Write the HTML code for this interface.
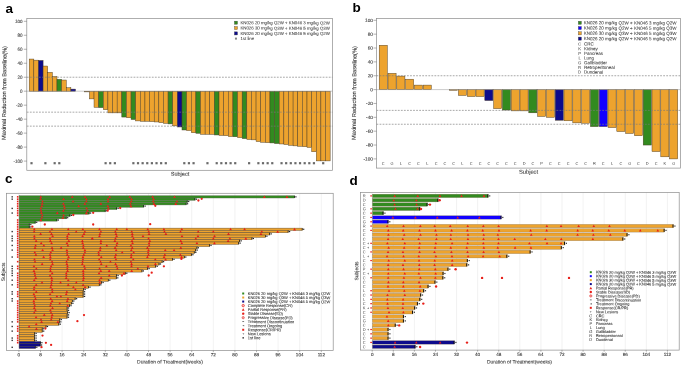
<!DOCTYPE html>
<html><head><meta charset="utf-8"><style>
html,body{margin:0;padding:0;background:#fff;width:685px;height:366px;overflow:hidden}
svg{display:block;transform:translateZ(0);will-change:transform}
text{font-family:"Liberation Sans",sans-serif;-webkit-font-smoothing:antialiased}
</style></head><body>
<svg width="685" height="366" viewBox="0 0 685 366">
<rect x="0" y="0" width="685" height="366" fill="#fff"/>
<text x="5.6" y="13" font-size="13.5" text-anchor="start" fill="#000" font-weight="bold" >a</text>
<rect x="29.2" y="59.05" width="4.63" height="32.15" fill="#eda32e" stroke="#4a3a22" stroke-width="0.45" />
<rect x="33.83" y="60.16" width="4.63" height="31.04" fill="#eda32e" stroke="#4a3a22" stroke-width="0.45" />
<rect x="38.46" y="60.44" width="4.63" height="30.76" fill="#0d0b8c" stroke="#4a3a22" stroke-width="0.45" />
<rect x="43.09" y="66.04" width="4.63" height="25.16" fill="#eda32e" stroke="#4a3a22" stroke-width="0.45" />
<rect x="47.72" y="72.33" width="4.63" height="18.87" fill="#eda32e" stroke="#4a3a22" stroke-width="0.45" />
<rect x="52.35" y="76.52" width="4.63" height="14.68" fill="#eda32e" stroke="#4a3a22" stroke-width="0.45" />
<rect x="56.98" y="79.32" width="4.63" height="11.88" fill="#328a1f" stroke="#4a3a22" stroke-width="0.45" />
<rect x="61.61" y="80.02" width="4.63" height="11.18" fill="#eda32e" stroke="#4a3a22" stroke-width="0.45" />
<rect x="66.24" y="87.7" width="4.63" height="3.5" fill="#eda32e" stroke="#4a3a22" stroke-width="0.45" />
<rect x="70.87" y="89.1" width="4.63" height="2.1" fill="#0d0b8c" stroke="#4a3a22" stroke-width="0.45" />
<rect x="84.76" y="91.2" width="4.63" height="0.7" fill="#eda32e" stroke="#4a3a22" stroke-width="0.45" />
<rect x="89.39" y="91.2" width="4.63" height="7.69" fill="#eda32e" stroke="#4a3a22" stroke-width="0.45" />
<rect x="94.02" y="91.2" width="4.63" height="16.08" fill="#eda32e" stroke="#4a3a22" stroke-width="0.45" />
<rect x="98.65" y="91.2" width="4.63" height="16.43" fill="#328a1f" stroke="#4a3a22" stroke-width="0.45" />
<rect x="103.28" y="91.2" width="4.63" height="18.52" fill="#eda32e" stroke="#4a3a22" stroke-width="0.45" />
<rect x="107.91" y="91.2" width="4.63" height="21.67" fill="#eda32e" stroke="#4a3a22" stroke-width="0.45" />
<rect x="112.54" y="91.2" width="4.63" height="21.67" fill="#eda32e" stroke="#4a3a22" stroke-width="0.45" />
<rect x="117.17" y="91.2" width="4.63" height="21.67" fill="#eda32e" stroke="#4a3a22" stroke-width="0.45" />
<rect x="121.8" y="91.2" width="4.63" height="25.86" fill="#328a1f" stroke="#4a3a22" stroke-width="0.45" />
<rect x="126.43" y="91.2" width="4.63" height="26.56" fill="#eda32e" stroke="#4a3a22" stroke-width="0.45" />
<rect x="131.06" y="91.2" width="4.63" height="28.31" fill="#328a1f" stroke="#4a3a22" stroke-width="0.45" />
<rect x="135.69" y="91.2" width="4.63" height="29.71" fill="#eda32e" stroke="#4a3a22" stroke-width="0.45" />
<rect x="140.32" y="91.2" width="4.63" height="30.06" fill="#eda32e" stroke="#4a3a22" stroke-width="0.45" />
<rect x="144.95" y="91.2" width="4.63" height="30.06" fill="#eda32e" stroke="#4a3a22" stroke-width="0.45" />
<rect x="149.58" y="91.2" width="4.63" height="30.41" fill="#eda32e" stroke="#4a3a22" stroke-width="0.45" />
<rect x="154.21" y="91.2" width="4.63" height="30.76" fill="#eda32e" stroke="#4a3a22" stroke-width="0.45" />
<rect x="158.84" y="91.2" width="4.63" height="31.45" fill="#eda32e" stroke="#4a3a22" stroke-width="0.45" />
<rect x="163.47" y="91.2" width="4.63" height="32.15" fill="#eda32e" stroke="#4a3a22" stroke-width="0.45" />
<rect x="168.1" y="91.2" width="4.63" height="32.71" fill="#328a1f" stroke="#4a3a22" stroke-width="0.45" />
<rect x="172.73" y="91.2" width="4.63" height="34.67" fill="#eda32e" stroke="#4a3a22" stroke-width="0.45" />
<rect x="177.36" y="91.2" width="4.63" height="35.79" fill="#0d0b8c" stroke="#4a3a22" stroke-width="0.45" />
<rect x="181.99" y="91.2" width="4.63" height="38.79" fill="#328a1f" stroke="#4a3a22" stroke-width="0.45" />
<rect x="186.62" y="91.2" width="4.63" height="39.35" fill="#eda32e" stroke="#4a3a22" stroke-width="0.45" />
<rect x="191.25" y="91.2" width="4.63" height="41.52" fill="#eda32e" stroke="#4a3a22" stroke-width="0.45" />
<rect x="195.88" y="91.2" width="4.63" height="42.08" fill="#328a1f" stroke="#4a3a22" stroke-width="0.45" />
<rect x="200.51" y="91.2" width="4.63" height="43.06" fill="#eda32e" stroke="#4a3a22" stroke-width="0.45" />
<rect x="205.14" y="91.2" width="4.63" height="43.06" fill="#eda32e" stroke="#4a3a22" stroke-width="0.45" />
<rect x="209.77" y="91.2" width="4.63" height="43.2" fill="#eda32e" stroke="#4a3a22" stroke-width="0.45" />
<rect x="214.4" y="91.2" width="4.63" height="43.76" fill="#328a1f" stroke="#4a3a22" stroke-width="0.45" />
<rect x="219.03" y="91.2" width="4.63" height="44.25" fill="#eda32e" stroke="#4a3a22" stroke-width="0.45" />
<rect x="223.66" y="91.2" width="4.63" height="44.46" fill="#eda32e" stroke="#4a3a22" stroke-width="0.45" />
<rect x="228.29" y="91.2" width="4.63" height="45.37" fill="#eda32e" stroke="#4a3a22" stroke-width="0.45" />
<rect x="232.92" y="91.2" width="4.63" height="45.57" fill="#328a1f" stroke="#4a3a22" stroke-width="0.45" />
<rect x="237.55" y="91.2" width="4.63" height="46.41" fill="#eda32e" stroke="#4a3a22" stroke-width="0.45" />
<rect x="242.18" y="91.2" width="4.63" height="47.39" fill="#328a1f" stroke="#4a3a22" stroke-width="0.45" />
<rect x="246.81" y="91.2" width="4.63" height="48.3" fill="#eda32e" stroke="#4a3a22" stroke-width="0.45" />
<rect x="251.44" y="91.2" width="4.63" height="48.65" fill="#eda32e" stroke="#4a3a22" stroke-width="0.45" />
<rect x="256.07" y="91.2" width="4.63" height="50.33" fill="#eda32e" stroke="#4a3a22" stroke-width="0.45" />
<rect x="260.7" y="91.2" width="4.63" height="51.03" fill="#eda32e" stroke="#4a3a22" stroke-width="0.45" />
<rect x="265.33" y="91.2" width="4.63" height="51.45" fill="#eda32e" stroke="#4a3a22" stroke-width="0.45" />
<rect x="269.96" y="91.2" width="4.63" height="51.73" fill="#328a1f" stroke="#4a3a22" stroke-width="0.45" />
<rect x="274.59" y="91.2" width="4.63" height="52.36" fill="#328a1f" stroke="#4a3a22" stroke-width="0.45" />
<rect x="279.22" y="91.2" width="4.63" height="52.77" fill="#eda32e" stroke="#4a3a22" stroke-width="0.45" />
<rect x="283.85" y="91.2" width="4.63" height="53.33" fill="#eda32e" stroke="#4a3a22" stroke-width="0.45" />
<rect x="288.48" y="91.2" width="4.63" height="54.1" fill="#eda32e" stroke="#4a3a22" stroke-width="0.45" />
<rect x="293.11" y="91.2" width="4.63" height="54.66" fill="#eda32e" stroke="#4a3a22" stroke-width="0.45" />
<rect x="297.74" y="91.2" width="4.63" height="55.08" fill="#eda32e" stroke="#4a3a22" stroke-width="0.45" />
<rect x="302.37" y="91.2" width="4.63" height="55.5" fill="#eda32e" stroke="#4a3a22" stroke-width="0.45" />
<rect x="307" y="91.2" width="4.63" height="56.2" fill="#eda32e" stroke="#4a3a22" stroke-width="0.45" />
<rect x="311.63" y="91.2" width="4.63" height="60.53" fill="#eda32e" stroke="#4a3a22" stroke-width="0.45" />
<rect x="316.26" y="91.2" width="4.63" height="69.69" fill="#eda32e" stroke="#4a3a22" stroke-width="0.45" />
<rect x="320.89" y="91.2" width="4.63" height="69.69" fill="#eda32e" stroke="#4a3a22" stroke-width="0.45" />
<rect x="325.52" y="91.2" width="4.63" height="69.69" fill="#eda32e" stroke="#4a3a22" stroke-width="0.45" />
<line x1="26.8" y1="91.2" x2="332.5" y2="91.2" stroke="#999" stroke-width="0.5" />
<line x1="26.8" y1="77.22" x2="332.5" y2="77.22" stroke="#7a7a7a" stroke-width="0.65" stroke-dasharray="1.8 1.25"/>
<line x1="26.8" y1="112.17" x2="332.5" y2="112.17" stroke="#7a7a7a" stroke-width="0.65" stroke-dasharray="1.8 1.25"/>
<line x1="26.8" y1="126.15" x2="332.5" y2="126.15" stroke="#7a7a7a" stroke-width="0.65" stroke-dasharray="1.8 1.25"/>
<rect x="30.41" y="162.1" width="2.2" height="2.2" fill="#6a6a6a" />
<rect x="44.3" y="162.1" width="2.2" height="2.2" fill="#6a6a6a" />
<rect x="53.56" y="162.1" width="2.2" height="2.2" fill="#6a6a6a" />
<rect x="58.2" y="162.1" width="2.2" height="2.2" fill="#6a6a6a" />
<rect x="104.5" y="162.1" width="2.2" height="2.2" fill="#6a6a6a" />
<rect x="109.12" y="162.1" width="2.2" height="2.2" fill="#6a6a6a" />
<rect x="113.76" y="162.1" width="2.2" height="2.2" fill="#6a6a6a" />
<rect x="132.28" y="162.1" width="2.2" height="2.2" fill="#6a6a6a" />
<rect x="136.91" y="162.1" width="2.2" height="2.2" fill="#6a6a6a" />
<rect x="141.53" y="162.1" width="2.2" height="2.2" fill="#6a6a6a" />
<rect x="146.16" y="162.1" width="2.2" height="2.2" fill="#6a6a6a" />
<rect x="150.79" y="162.1" width="2.2" height="2.2" fill="#6a6a6a" />
<rect x="155.43" y="162.1" width="2.2" height="2.2" fill="#6a6a6a" />
<rect x="160.05" y="162.1" width="2.2" height="2.2" fill="#6a6a6a" />
<rect x="164.69" y="162.1" width="2.2" height="2.2" fill="#6a6a6a" />
<rect x="183.2" y="162.1" width="2.2" height="2.2" fill="#6a6a6a" />
<rect x="187.83" y="162.1" width="2.2" height="2.2" fill="#6a6a6a" />
<rect x="192.47" y="162.1" width="2.2" height="2.2" fill="#6a6a6a" />
<rect x="206.35" y="162.1" width="2.2" height="2.2" fill="#6a6a6a" />
<rect x="215.61" y="162.1" width="2.2" height="2.2" fill="#6a6a6a" />
<rect x="220.24" y="162.1" width="2.2" height="2.2" fill="#6a6a6a" />
<rect x="224.88" y="162.1" width="2.2" height="2.2" fill="#6a6a6a" />
<rect x="229.5" y="162.1" width="2.2" height="2.2" fill="#6a6a6a" />
<rect x="234.13" y="162.1" width="2.2" height="2.2" fill="#6a6a6a" />
<rect x="248.02" y="162.1" width="2.2" height="2.2" fill="#6a6a6a" />
<rect x="257.28" y="162.1" width="2.2" height="2.2" fill="#6a6a6a" />
<rect x="261.91" y="162.1" width="2.2" height="2.2" fill="#6a6a6a" />
<rect x="266.54" y="162.1" width="2.2" height="2.2" fill="#6a6a6a" />
<rect x="271.17" y="162.1" width="2.2" height="2.2" fill="#6a6a6a" />
<rect x="280.44" y="162.1" width="2.2" height="2.2" fill="#6a6a6a" />
<rect x="285.06" y="162.1" width="2.2" height="2.2" fill="#6a6a6a" />
<rect x="289.69" y="162.1" width="2.2" height="2.2" fill="#6a6a6a" />
<rect x="294.32" y="162.1" width="2.2" height="2.2" fill="#6a6a6a" />
<rect x="298.95" y="162.1" width="2.2" height="2.2" fill="#6a6a6a" />
<rect x="303.58" y="162.1" width="2.2" height="2.2" fill="#6a6a6a" />
<rect x="308.21" y="162.1" width="2.2" height="2.2" fill="#6a6a6a" />
<rect x="312.84" y="162.1" width="2.2" height="2.2" fill="#6a6a6a" />
<rect x="322.1" y="162.1" width="2.2" height="2.2" fill="#6a6a6a" />
<rect x="26.8" y="18.6" width="305.7" height="151.7" fill="none" stroke="#8c8c8c" stroke-width="0.7"/>
<line x1="23.8" y1="161.1" x2="26.8" y2="161.1" stroke="#666" stroke-width="0.5" />
<text x="22.5" y="162.7" font-size="4.5" text-anchor="end" fill="#383838" font-weight="normal" stroke="#383838" stroke-width="0.09"  transform="rotate(0.15 22.5 162.7)">-100</text>
<line x1="23.8" y1="147.12" x2="26.8" y2="147.12" stroke="#666" stroke-width="0.5" />
<text x="22.5" y="148.72" font-size="4.5" text-anchor="end" fill="#383838" font-weight="normal" stroke="#383838" stroke-width="0.09"  transform="rotate(0.15 22.5 148.72)">-80</text>
<line x1="23.8" y1="133.14" x2="26.8" y2="133.14" stroke="#666" stroke-width="0.5" />
<text x="22.5" y="134.74" font-size="4.5" text-anchor="end" fill="#383838" font-weight="normal" stroke="#383838" stroke-width="0.09"  transform="rotate(0.15 22.5 134.74)">-60</text>
<line x1="23.8" y1="119.16" x2="26.8" y2="119.16" stroke="#666" stroke-width="0.5" />
<text x="22.5" y="120.76" font-size="4.5" text-anchor="end" fill="#383838" font-weight="normal" stroke="#383838" stroke-width="0.09"  transform="rotate(0.15 22.5 120.76)">-40</text>
<line x1="23.8" y1="105.18" x2="26.8" y2="105.18" stroke="#666" stroke-width="0.5" />
<text x="22.5" y="106.78" font-size="4.5" text-anchor="end" fill="#383838" font-weight="normal" stroke="#383838" stroke-width="0.09"  transform="rotate(0.15 22.5 106.78)">-20</text>
<line x1="23.8" y1="91.2" x2="26.8" y2="91.2" stroke="#666" stroke-width="0.5" />
<text x="22.5" y="92.8" font-size="4.5" text-anchor="end" fill="#383838" font-weight="normal" stroke="#383838" stroke-width="0.09"  transform="rotate(0.15 22.5 92.8)">0</text>
<line x1="23.8" y1="77.22" x2="26.8" y2="77.22" stroke="#666" stroke-width="0.5" />
<text x="22.5" y="78.82" font-size="4.5" text-anchor="end" fill="#383838" font-weight="normal" stroke="#383838" stroke-width="0.09"  transform="rotate(0.15 22.5 78.82)">20</text>
<line x1="23.8" y1="63.24" x2="26.8" y2="63.24" stroke="#666" stroke-width="0.5" />
<text x="22.5" y="64.84" font-size="4.5" text-anchor="end" fill="#383838" font-weight="normal" stroke="#383838" stroke-width="0.09"  transform="rotate(0.15 22.5 64.84)">40</text>
<line x1="23.8" y1="49.26" x2="26.8" y2="49.26" stroke="#666" stroke-width="0.5" />
<text x="22.5" y="50.86" font-size="4.5" text-anchor="end" fill="#383838" font-weight="normal" stroke="#383838" stroke-width="0.09"  transform="rotate(0.15 22.5 50.86)">60</text>
<line x1="23.8" y1="35.28" x2="26.8" y2="35.28" stroke="#666" stroke-width="0.5" />
<text x="22.5" y="36.88" font-size="4.5" text-anchor="end" fill="#383838" font-weight="normal" stroke="#383838" stroke-width="0.09"  transform="rotate(0.15 22.5 36.88)">80</text>
<line x1="23.8" y1="21.3" x2="26.8" y2="21.3" stroke="#666" stroke-width="0.5" />
<text x="22.5" y="22.9" font-size="4.5" text-anchor="end" fill="#383838" font-weight="normal" stroke="#383838" stroke-width="0.09"  transform="rotate(0.15 22.5 22.9)">100</text>
<text x="4.6" y="93" font-size="5.72" text-anchor="middle" fill="#333" font-weight="normal" stroke="#333" stroke-width="0.09" transform="rotate(-89.5 4.6 93)" dominant-baseline="middle">Maximal Reduction from Baseline(%)</text>
<text x="180" y="175.8" font-size="5.5" text-anchor="middle" fill="#383838" font-weight="normal" stroke="#383838" stroke-width="0.09"  transform="rotate(0.15 180 175.8)">Subject</text>
<rect x="234.4" y="21.15" width="3.1" height="3.1" fill="#328a1f" stroke="#444" stroke-width="0.35" />
<text x="240.4" y="24.2" font-size="4.35" text-anchor="start" fill="#444" font-weight="normal" stroke="#444" stroke-width="0.07"  transform="rotate(0.15 240.4 24.2)">KN026 20 mg/kg Q2W + KN046 3 mg/kg Q2W</text>
<rect x="234.4" y="26.5" width="3.1" height="3.1" fill="#eda32e" stroke="#444" stroke-width="0.35" />
<text x="240.4" y="29.55" font-size="4.35" text-anchor="start" fill="#444" font-weight="normal" stroke="#444" stroke-width="0.07"  transform="rotate(0.15 240.4 29.55)">KN026 30 mg/kg Q3W + KN046 5 mg/kg Q3W</text>
<rect x="234.4" y="31.85" width="3.1" height="3.1" fill="#0d0b8c" stroke="#444" stroke-width="0.35" />
<text x="240.4" y="34.9" font-size="4.35" text-anchor="start" fill="#444" font-weight="normal" stroke="#444" stroke-width="0.07"  transform="rotate(0.15 240.4 34.9)">KN026 20 mg/kg Q2W + KN046 5 mg/kg Q2W</text>
<rect x="234.95" y="37.6" width="2" height="2" fill="#858585" />
<text x="240.4" y="40.1" font-size="4.35" text-anchor="start" fill="#444" font-weight="normal" stroke="#444" stroke-width="0.07"  transform="rotate(0.15 240.4 40.1)">1st line</text>
<text x="352.4" y="12.1" font-size="13.5" text-anchor="start" fill="#000" font-weight="bold" >b</text>
<rect x="379.2" y="45.25" width="8.1" height="44.35" fill="#eda32e" stroke="#4a3a22" stroke-width="0.45" />
<text x="383.25" y="164.7" font-size="3.9" text-anchor="middle" fill="#333" font-weight="normal"  transform="rotate(0.15 383.25 164.7)">C</text>
<rect x="388" y="73.31" width="8.1" height="16.29" fill="#eda32e" stroke="#4a3a22" stroke-width="0.45" />
<text x="392.05" y="164.7" font-size="3.9" text-anchor="middle" fill="#333" font-weight="normal"  transform="rotate(0.15 392.05 164.7)">G</text>
<rect x="396.8" y="76.09" width="8.1" height="13.51" fill="#eda32e" stroke="#4a3a22" stroke-width="0.45" />
<text x="400.85" y="164.7" font-size="3.9" text-anchor="middle" fill="#333" font-weight="normal"  transform="rotate(0.15 400.85 164.7)">L</text>
<rect x="405.6" y="79.2" width="8.1" height="10.39" fill="#eda32e" stroke="#4a3a22" stroke-width="0.45" />
<text x="409.65" y="164.7" font-size="3.9" text-anchor="middle" fill="#333" font-weight="normal"  transform="rotate(0.15 409.65 164.7)">C</text>
<rect x="414.4" y="85.1" width="8.1" height="4.5" fill="#eda32e" stroke="#4a3a22" stroke-width="0.45" />
<text x="418.45" y="164.7" font-size="3.9" text-anchor="middle" fill="#333" font-weight="normal"  transform="rotate(0.15 418.45 164.7)">C</text>
<rect x="423.2" y="85.1" width="8.1" height="4.5" fill="#eda32e" stroke="#4a3a22" stroke-width="0.45" />
<text x="427.25" y="164.7" font-size="3.9" text-anchor="middle" fill="#333" font-weight="normal"  transform="rotate(0.15 427.25 164.7)">L</text>
<text x="436.05" y="164.7" font-size="3.9" text-anchor="middle" fill="#333" font-weight="normal"  transform="rotate(0.15 436.05 164.7)">C</text>
<text x="444.85" y="164.7" font-size="3.9" text-anchor="middle" fill="#333" font-weight="normal"  transform="rotate(0.15 444.85 164.7)">C</text>
<rect x="449.6" y="89.6" width="8.1" height="0.69" fill="#eda32e" stroke="#4a3a22" stroke-width="0.45" />
<text x="453.65" y="164.7" font-size="3.9" text-anchor="middle" fill="#333" font-weight="normal"  transform="rotate(0.15 453.65 164.7)">C</text>
<rect x="458.4" y="89.6" width="8.1" height="5.82" fill="#eda32e" stroke="#4a3a22" stroke-width="0.45" />
<text x="462.45" y="164.7" font-size="3.9" text-anchor="middle" fill="#333" font-weight="normal"  transform="rotate(0.15 462.45 164.7)">L</text>
<rect x="467.2" y="89.6" width="8.1" height="6.93" fill="#eda32e" stroke="#4a3a22" stroke-width="0.45" />
<text x="471.25" y="164.7" font-size="3.9" text-anchor="middle" fill="#333" font-weight="normal"  transform="rotate(0.15 471.25 164.7)">C</text>
<rect x="476" y="89.6" width="8.1" height="6.93" fill="#eda32e" stroke="#4a3a22" stroke-width="0.45" />
<text x="480.05" y="164.7" font-size="3.9" text-anchor="middle" fill="#333" font-weight="normal"  transform="rotate(0.15 480.05 164.7)">C</text>
<rect x="484.8" y="89.6" width="8.1" height="10.95" fill="#0d0b8c" stroke="#4a3a22" stroke-width="0.45" />
<text x="488.85" y="164.7" font-size="3.9" text-anchor="middle" fill="#333" font-weight="normal"  transform="rotate(0.15 488.85 164.7)">C</text>
<rect x="493.6" y="89.6" width="8.1" height="19.06" fill="#eda32e" stroke="#4a3a22" stroke-width="0.45" />
<text x="497.65" y="164.7" font-size="3.9" text-anchor="middle" fill="#333" font-weight="normal"  transform="rotate(0.15 497.65 164.7)">C</text>
<rect x="502.4" y="89.6" width="8.1" height="20.44" fill="#328a1f" stroke="#4a3a22" stroke-width="0.45" />
<text x="506.45" y="164.7" font-size="3.9" text-anchor="middle" fill="#333" font-weight="normal"  transform="rotate(0.15 506.45 164.7)">C</text>
<rect x="511.2" y="89.6" width="8.1" height="21.28" fill="#eda32e" stroke="#4a3a22" stroke-width="0.45" />
<text x="515.25" y="164.7" font-size="3.9" text-anchor="middle" fill="#333" font-weight="normal"  transform="rotate(0.15 515.25 164.7)">C</text>
<rect x="520" y="89.6" width="8.1" height="21.28" fill="#eda32e" stroke="#4a3a22" stroke-width="0.45" />
<text x="524.05" y="164.7" font-size="3.9" text-anchor="middle" fill="#333" font-weight="normal"  transform="rotate(0.15 524.05 164.7)">D</text>
<rect x="528.8" y="89.6" width="8.1" height="23.22" fill="#328a1f" stroke="#4a3a22" stroke-width="0.45" />
<text x="532.85" y="164.7" font-size="3.9" text-anchor="middle" fill="#333" font-weight="normal"  transform="rotate(0.15 532.85 164.7)">C</text>
<rect x="537.6" y="89.6" width="8.1" height="26.82" fill="#eda32e" stroke="#4a3a22" stroke-width="0.45" />
<text x="541.65" y="164.7" font-size="3.9" text-anchor="middle" fill="#333" font-weight="normal"  transform="rotate(0.15 541.65 164.7)">P</text>
<rect x="546.4" y="89.6" width="8.1" height="27.72" fill="#eda32e" stroke="#4a3a22" stroke-width="0.45" />
<text x="550.45" y="164.7" font-size="3.9" text-anchor="middle" fill="#333" font-weight="normal"  transform="rotate(0.15 550.45 164.7)">C</text>
<rect x="555.2" y="89.6" width="8.1" height="30.63" fill="#0d0b8c" stroke="#4a3a22" stroke-width="0.45" />
<text x="559.25" y="164.7" font-size="3.9" text-anchor="middle" fill="#333" font-weight="normal"  transform="rotate(0.15 559.25 164.7)">C</text>
<rect x="564" y="89.6" width="8.1" height="31.19" fill="#eda32e" stroke="#4a3a22" stroke-width="0.45" />
<text x="568.05" y="164.7" font-size="3.9" text-anchor="middle" fill="#333" font-weight="normal"  transform="rotate(0.15 568.05 164.7)">C</text>
<rect x="572.8" y="89.6" width="8.1" height="33.26" fill="#eda32e" stroke="#4a3a22" stroke-width="0.45" />
<text x="576.85" y="164.7" font-size="3.9" text-anchor="middle" fill="#333" font-weight="normal"  transform="rotate(0.15 576.85 164.7)">C</text>
<rect x="581.6" y="89.6" width="8.1" height="33.61" fill="#eda32e" stroke="#4a3a22" stroke-width="0.45" />
<text x="585.65" y="164.7" font-size="3.9" text-anchor="middle" fill="#333" font-weight="normal"  transform="rotate(0.15 585.65 164.7)">C</text>
<rect x="590.4" y="89.6" width="8.1" height="37.01" fill="#328a1f" stroke="#4a3a22" stroke-width="0.45" />
<text x="594.45" y="164.7" font-size="3.9" text-anchor="middle" fill="#333" font-weight="normal"  transform="rotate(0.15 594.45 164.7)">R</text>
<rect x="599.2" y="89.6" width="8.1" height="37.01" fill="#1200ff" stroke="#4a3a22" stroke-width="0.45" />
<text x="603.25" y="164.7" font-size="3.9" text-anchor="middle" fill="#333" font-weight="normal"  transform="rotate(0.15 603.25 164.7)">C</text>
<rect x="608" y="89.6" width="8.1" height="37.98" fill="#eda32e" stroke="#4a3a22" stroke-width="0.45" />
<text x="612.05" y="164.7" font-size="3.9" text-anchor="middle" fill="#333" font-weight="normal"  transform="rotate(0.15 612.05 164.7)">L</text>
<rect x="616.8" y="89.6" width="8.1" height="41.93" fill="#eda32e" stroke="#4a3a22" stroke-width="0.45" />
<text x="620.85" y="164.7" font-size="3.9" text-anchor="middle" fill="#333" font-weight="normal"  transform="rotate(0.15 620.85 164.7)">C</text>
<rect x="625.6" y="89.6" width="8.1" height="43.87" fill="#eda32e" stroke="#4a3a22" stroke-width="0.45" />
<text x="629.65" y="164.7" font-size="3.9" text-anchor="middle" fill="#333" font-weight="normal"  transform="rotate(0.15 629.65 164.7)">G</text>
<rect x="634.4" y="89.6" width="8.1" height="46.15" fill="#eda32e" stroke="#4a3a22" stroke-width="0.45" />
<text x="638.45" y="164.7" font-size="3.9" text-anchor="middle" fill="#333" font-weight="normal"  transform="rotate(0.15 638.45 164.7)">C</text>
<rect x="643.2" y="89.6" width="8.1" height="55.44" fill="#328a1f" stroke="#4a3a22" stroke-width="0.45" />
<text x="647.25" y="164.7" font-size="3.9" text-anchor="middle" fill="#333" font-weight="normal"  transform="rotate(0.15 647.25 164.7)">D</text>
<rect x="652" y="89.6" width="8.1" height="61.95" fill="#eda32e" stroke="#4a3a22" stroke-width="0.45" />
<text x="656.05" y="164.7" font-size="3.9" text-anchor="middle" fill="#333" font-weight="normal"  transform="rotate(0.15 656.05 164.7)">C</text>
<rect x="660.8" y="89.6" width="8.1" height="67.22" fill="#eda32e" stroke="#4a3a22" stroke-width="0.45" />
<text x="664.85" y="164.7" font-size="3.9" text-anchor="middle" fill="#333" font-weight="normal"  transform="rotate(0.15 664.85 164.7)">K</text>
<rect x="669.6" y="89.6" width="8.1" height="69.3" fill="#eda32e" stroke="#4a3a22" stroke-width="0.45" />
<text x="673.65" y="164.7" font-size="3.9" text-anchor="middle" fill="#333" font-weight="normal"  transform="rotate(0.15 673.65 164.7)">G</text>
<line x1="376.5" y1="89.6" x2="680.5" y2="89.6" stroke="#999" stroke-width="0.5" />
<line x1="376.5" y1="75.74" x2="680.5" y2="75.74" stroke="#7a7a7a" stroke-width="0.65" stroke-dasharray="1.8 1.25"/>
<line x1="376.5" y1="110.39" x2="680.5" y2="110.39" stroke="#7a7a7a" stroke-width="0.65" stroke-dasharray="1.8 1.25"/>
<line x1="376.5" y1="124.25" x2="680.5" y2="124.25" stroke="#7a7a7a" stroke-width="0.65" stroke-dasharray="1.8 1.25"/>
<rect x="376.5" y="18.4" width="304" height="149.7" fill="none" stroke="#8c8c8c" stroke-width="0.7"/>
<line x1="373.5" y1="158.9" x2="376.5" y2="158.9" stroke="#666" stroke-width="0.5" />
<text x="372.9" y="160.5" font-size="4.7" text-anchor="end" fill="#383838" font-weight="normal" stroke="#383838" stroke-width="0.09"  transform="rotate(0.15 372.9 160.5)">-100</text>
<line x1="373.5" y1="145.04" x2="376.5" y2="145.04" stroke="#666" stroke-width="0.5" />
<text x="372.9" y="146.64" font-size="4.7" text-anchor="end" fill="#383838" font-weight="normal" stroke="#383838" stroke-width="0.09"  transform="rotate(0.15 372.9 146.64)">-80</text>
<line x1="373.5" y1="131.18" x2="376.5" y2="131.18" stroke="#666" stroke-width="0.5" />
<text x="372.9" y="132.78" font-size="4.7" text-anchor="end" fill="#383838" font-weight="normal" stroke="#383838" stroke-width="0.09"  transform="rotate(0.15 372.9 132.78)">-60</text>
<line x1="373.5" y1="117.32" x2="376.5" y2="117.32" stroke="#666" stroke-width="0.5" />
<text x="372.9" y="118.92" font-size="4.7" text-anchor="end" fill="#383838" font-weight="normal" stroke="#383838" stroke-width="0.09"  transform="rotate(0.15 372.9 118.92)">-40</text>
<line x1="373.5" y1="103.46" x2="376.5" y2="103.46" stroke="#666" stroke-width="0.5" />
<text x="372.9" y="105.06" font-size="4.7" text-anchor="end" fill="#383838" font-weight="normal" stroke="#383838" stroke-width="0.09"  transform="rotate(0.15 372.9 105.06)">-20</text>
<line x1="373.5" y1="89.6" x2="376.5" y2="89.6" stroke="#666" stroke-width="0.5" />
<text x="372.9" y="91.2" font-size="4.7" text-anchor="end" fill="#383838" font-weight="normal" stroke="#383838" stroke-width="0.09"  transform="rotate(0.15 372.9 91.2)">0</text>
<line x1="373.5" y1="75.74" x2="376.5" y2="75.74" stroke="#666" stroke-width="0.5" />
<text x="372.9" y="77.34" font-size="4.7" text-anchor="end" fill="#383838" font-weight="normal" stroke="#383838" stroke-width="0.09"  transform="rotate(0.15 372.9 77.34)">20</text>
<line x1="373.5" y1="61.88" x2="376.5" y2="61.88" stroke="#666" stroke-width="0.5" />
<text x="372.9" y="63.48" font-size="4.7" text-anchor="end" fill="#383838" font-weight="normal" stroke="#383838" stroke-width="0.09"  transform="rotate(0.15 372.9 63.48)">40</text>
<line x1="373.5" y1="48.02" x2="376.5" y2="48.02" stroke="#666" stroke-width="0.5" />
<text x="372.9" y="49.62" font-size="4.7" text-anchor="end" fill="#383838" font-weight="normal" stroke="#383838" stroke-width="0.09"  transform="rotate(0.15 372.9 49.62)">60</text>
<line x1="373.5" y1="34.16" x2="376.5" y2="34.16" stroke="#666" stroke-width="0.5" />
<text x="372.9" y="35.76" font-size="4.7" text-anchor="end" fill="#383838" font-weight="normal" stroke="#383838" stroke-width="0.09"  transform="rotate(0.15 372.9 35.76)">80</text>
<line x1="373.5" y1="20.3" x2="376.5" y2="20.3" stroke="#666" stroke-width="0.5" />
<text x="372.9" y="21.9" font-size="4.7" text-anchor="end" fill="#383838" font-weight="normal" stroke="#383838" stroke-width="0.09"  transform="rotate(0.15 372.9 21.9)">100</text>
<text x="354.6" y="93" font-size="5.72" text-anchor="middle" fill="#333" font-weight="normal" stroke="#333" stroke-width="0.09" transform="rotate(-89.5 354.6 93)" dominant-baseline="middle">Maximal Reduction from Baseline(%)</text>
<text x="528.5" y="173.7" font-size="5.75" text-anchor="middle" fill="#383838" font-weight="normal" stroke="#383838" stroke-width="0.09"  transform="rotate(0.15 528.5 173.7)">Subject</text>
<rect x="578.3" y="21.25" width="3.1" height="3.1" fill="#328a1f" stroke="#444" stroke-width="0.35" />
<text x="583.8" y="24.3" font-size="4.5" text-anchor="start" fill="#444" font-weight="normal" stroke="#444" stroke-width="0.07"  transform="rotate(0.15 583.8 24.3)">KN026 20 mg/kg Q2W + KN046 3 mg/kg Q2W</text>
<rect x="578.3" y="26.52" width="3.1" height="3.1" fill="#1200ff" stroke="#444" stroke-width="0.35" />
<text x="583.8" y="29.57" font-size="4.5" text-anchor="start" fill="#444" font-weight="normal" stroke="#444" stroke-width="0.07"  transform="rotate(0.15 583.8 29.57)">KN026 20 mg/kg Q2W + KN046 5 mg/kg Q3W</text>
<rect x="578.3" y="31.79" width="3.1" height="3.1" fill="#eda32e" stroke="#444" stroke-width="0.35" />
<text x="583.8" y="34.84" font-size="4.5" text-anchor="start" fill="#444" font-weight="normal" stroke="#444" stroke-width="0.07"  transform="rotate(0.15 583.8 34.84)">KN026 30 mg/kg Q3W + KN046 5 mg/kg Q3W</text>
<rect x="578.3" y="37.06" width="3.1" height="3.1" fill="#0d0b8c" stroke="#444" stroke-width="0.35" />
<text x="583.8" y="40.11" font-size="4.5" text-anchor="start" fill="#444" font-weight="normal" stroke="#444" stroke-width="0.07"  transform="rotate(0.15 583.8 40.11)">KN026 20 mg/kg Q2W + KN046 5 mg/kg Q2W</text>
<text x="579.6" y="45.6" font-size="4.3" text-anchor="middle" fill="#555" font-weight="normal" stroke="#555" stroke-width="0.05"  transform="rotate(0.15 579.6 45.6)">C</text>
<text x="584" y="45.6" font-size="4.5" text-anchor="start" fill="#444" font-weight="normal" stroke="#444" stroke-width="0.07"  transform="rotate(0.15 584 45.6)">CRC</text>
<text x="579.6" y="50.27" font-size="4.3" text-anchor="middle" fill="#555" font-weight="normal" stroke="#555" stroke-width="0.05"  transform="rotate(0.15 579.6 50.27)">K</text>
<text x="584" y="50.27" font-size="4.5" text-anchor="start" fill="#444" font-weight="normal" stroke="#444" stroke-width="0.07"  transform="rotate(0.15 584 50.27)">Kidney</text>
<text x="579.6" y="54.94" font-size="4.3" text-anchor="middle" fill="#555" font-weight="normal" stroke="#555" stroke-width="0.05"  transform="rotate(0.15 579.6 54.94)">P</text>
<text x="584" y="54.94" font-size="4.5" text-anchor="start" fill="#444" font-weight="normal" stroke="#444" stroke-width="0.07"  transform="rotate(0.15 584 54.94)">Pancreas</text>
<text x="579.6" y="59.61" font-size="4.3" text-anchor="middle" fill="#555" font-weight="normal" stroke="#555" stroke-width="0.05"  transform="rotate(0.15 579.6 59.61)">L</text>
<text x="584" y="59.61" font-size="4.5" text-anchor="start" fill="#444" font-weight="normal" stroke="#444" stroke-width="0.07"  transform="rotate(0.15 584 59.61)">Lung</text>
<text x="579.6" y="64.28" font-size="4.3" text-anchor="middle" fill="#555" font-weight="normal" stroke="#555" stroke-width="0.05"  transform="rotate(0.15 579.6 64.28)">G</text>
<text x="584" y="64.28" font-size="4.5" text-anchor="start" fill="#444" font-weight="normal" stroke="#444" stroke-width="0.07"  transform="rotate(0.15 584 64.28)">Gallbladder</text>
<text x="579.6" y="68.95" font-size="4.3" text-anchor="middle" fill="#555" font-weight="normal" stroke="#555" stroke-width="0.05"  transform="rotate(0.15 579.6 68.95)">R</text>
<text x="584" y="68.95" font-size="4.5" text-anchor="start" fill="#444" font-weight="normal" stroke="#444" stroke-width="0.07"  transform="rotate(0.15 584 68.95)">Retroperitoneal</text>
<text x="579.6" y="73.62" font-size="4.3" text-anchor="middle" fill="#555" font-weight="normal" stroke="#555" stroke-width="0.05"  transform="rotate(0.15 579.6 73.62)">D</text>
<text x="584" y="73.62" font-size="4.5" text-anchor="start" fill="#444" font-weight="normal" stroke="#444" stroke-width="0.07"  transform="rotate(0.15 584 73.62)">Duodenal</text>
<text x="4.9" y="183.3" font-size="13.5" text-anchor="start" fill="#000" font-weight="bold" >c</text>
<line x1="18.9" y1="193.3" x2="18.9" y2="350.5" stroke="#e4e4e4" stroke-width="0.5" />
<line x1="40.5" y1="193.3" x2="40.5" y2="350.5" stroke="#e4e4e4" stroke-width="0.5" />
<line x1="62.1" y1="193.3" x2="62.1" y2="350.5" stroke="#e4e4e4" stroke-width="0.5" />
<line x1="83.7" y1="193.3" x2="83.7" y2="350.5" stroke="#e4e4e4" stroke-width="0.5" />
<line x1="105.3" y1="193.3" x2="105.3" y2="350.5" stroke="#e4e4e4" stroke-width="0.5" />
<line x1="126.9" y1="193.3" x2="126.9" y2="350.5" stroke="#e4e4e4" stroke-width="0.5" />
<line x1="148.5" y1="193.3" x2="148.5" y2="350.5" stroke="#e4e4e4" stroke-width="0.5" />
<line x1="170.1" y1="193.3" x2="170.1" y2="350.5" stroke="#e4e4e4" stroke-width="0.5" />
<line x1="191.7" y1="193.3" x2="191.7" y2="350.5" stroke="#e4e4e4" stroke-width="0.5" />
<line x1="213.3" y1="193.3" x2="213.3" y2="350.5" stroke="#e4e4e4" stroke-width="0.5" />
<line x1="234.9" y1="193.3" x2="234.9" y2="350.5" stroke="#e4e4e4" stroke-width="0.5" />
<line x1="256.5" y1="193.3" x2="256.5" y2="350.5" stroke="#e4e4e4" stroke-width="0.5" />
<line x1="278.1" y1="193.3" x2="278.1" y2="350.5" stroke="#e4e4e4" stroke-width="0.5" />
<line x1="299.7" y1="193.3" x2="299.7" y2="350.5" stroke="#e4e4e4" stroke-width="0.5" />
<line x1="321.3" y1="193.3" x2="321.3" y2="350.5" stroke="#e4e4e4" stroke-width="0.5" />
<rect x="19.1" y="195.7" width="275.6" height="2.31" fill="#328a1f" stroke="#5f6a58" stroke-width="0.4" />
<rect x="294" y="195.9" width="0.7" height="1.92" fill="#111" />
<rect x="295.3" y="196.25" width="1.2" height="1.2" fill="#222" />
<path d="M40.83 195.41 L42.28 198.02 L39.38 198.02 Z" fill="#e8201a"/>
<path d="M72.23 195.41 L73.68 198.02 L70.78 198.02 Z" fill="#e8201a"/>
<path d="M85.03 195.41 L86.48 198.02 L83.58 198.02 Z" fill="#e8201a"/>
<path d="M109.65 195.41 L111.1 198.02 L108.2 198.02 Z" fill="#e8201a"/>
<path d="M129.83 195.41 L131.28 198.02 L128.38 198.02 Z" fill="#e8201a"/>
<path d="M152.66 195.41 L154.11 198.02 L151.21 198.02 Z" fill="#e8201a"/>
<path d="M174.58 195.41 L176.03 198.02 L173.13 198.02 Z" fill="#e8201a"/>
<path d="M264.38 195.41 L265.83 198.02 L262.93 198.02 Z" fill="#e8201a"/>
<path d="M286.96 195.41 L288.41 198.02 L285.51 198.02 Z" fill="#e8201a"/>
<rect x="16.9" y="196.05" width="1.6" height="1.6" fill="#e8201a" />
<rect x="11.5" y="196.15" width="1.4" height="1.4" fill="#333" />
<rect x="19.1" y="198.01" width="176.1" height="2.31" fill="#328a1f" stroke="#5f6a58" stroke-width="0.4" />
<rect x="194.5" y="198.21" width="0.7" height="1.92" fill="#111" />
<rect x="195.8" y="198.56" width="1.2" height="1.2" fill="#222" />
<path d="M40.52 197.72 L41.97 200.33 L39.07 200.33 Z" fill="#e8201a"/>
<path d="M63.52 197.72 L64.97 200.33 L62.07 200.33 Z" fill="#e8201a"/>
<path d="M86.36 197.72 L87.81 200.33 L84.91 200.33 Z" fill="#e8201a"/>
<path d="M108 197.72 L109.45 200.33 L106.55 200.33 Z" fill="#e8201a"/>
<path d="M131.49 197.72 L132.94 200.33 L130.04 200.33 Z" fill="#e8201a"/>
<path d="M153.56 197.72 L155.01 200.33 L152.11 200.33 Z" fill="#e8201a"/>
<rect x="16.9" y="198.36" width="1.6" height="1.6" fill="#e8201a" />
<rect x="11.5" y="198.46" width="1.4" height="1.4" fill="#333" />
<rect x="19.1" y="200.33" width="168.4" height="2.31" fill="#328a1f" stroke="#5f6a58" stroke-width="0.4" />
<rect x="186.8" y="200.53" width="0.7" height="1.92" fill="#111" />
<rect x="188.1" y="200.88" width="1.2" height="1.2" fill="#222" />
<path d="M42.48 200.04 L43.93 202.65 L41.03 202.65 Z" fill="#e8201a"/>
<path d="M73.07 200.04 L74.52 202.65 L71.62 202.65 Z" fill="#e8201a"/>
<path d="M86.33 200.04 L87.78 202.65 L84.88 202.65 Z" fill="#e8201a"/>
<path d="M108.04 200.04 L109.49 202.65 L106.59 202.65 Z" fill="#e8201a"/>
<path d="M131.2 200.04 L132.65 202.65 L129.75 202.65 Z" fill="#e8201a"/>
<path d="M153.24 200.04 L154.69 202.65 L151.79 202.65 Z" fill="#e8201a"/>
<path d="M176.97 200.04 L178.42 202.65 L175.52 202.65 Z" fill="#e8201a"/>
<rect x="16.9" y="200.68" width="1.6" height="1.6" fill="#e8201a" />
<rect x="19.1" y="202.64" width="167.3" height="2.31" fill="#328a1f" stroke="#5f6a58" stroke-width="0.4" />
<rect x="185.7" y="202.84" width="0.7" height="1.92" fill="#111" />
<rect x="187" y="203.19" width="1.2" height="1.2" fill="#222" />
<path d="M42.18 202.35 L43.63 204.96 L40.73 204.96 Z" fill="#e8201a"/>
<path d="M63.41 202.35 L64.86 204.96 L61.96 204.96 Z" fill="#e8201a"/>
<path d="M84.84 202.35 L86.29 204.96 L83.39 204.96 Z" fill="#e8201a"/>
<path d="M100.89 202.35 L102.34 204.96 L99.44 204.96 Z" fill="#e8201a"/>
<path d="M130.19 202.35 L131.64 204.96 L128.74 204.96 Z" fill="#e8201a"/>
<path d="M154 202.35 L155.45 204.96 L152.55 204.96 Z" fill="#e8201a"/>
<path d="M175.76 202.35 L177.21 204.96 L174.31 204.96 Z" fill="#e8201a"/>
<rect x="16.9" y="202.99" width="1.6" height="1.6" fill="#e8201a" />
<rect x="19.1" y="204.96" width="124.8" height="2.31" fill="#328a1f" stroke="#5f6a58" stroke-width="0.4" />
<rect x="143.2" y="205.16" width="0.7" height="1.92" fill="#111" />
<rect x="144.5" y="205.51" width="1.2" height="1.2" fill="#222" />
<path d="M41.87 204.67 L43.32 207.28 L40.42 207.28 Z" fill="#e8201a"/>
<path d="M64.21 204.67 L65.66 207.28 L62.76 207.28 Z" fill="#e8201a"/>
<path d="M78.65 204.67 L80.1 207.28 L77.2 207.28 Z" fill="#e8201a"/>
<path d="M107.82 204.67 L109.27 207.28 L106.37 207.28 Z" fill="#e8201a"/>
<path d="M130.91 204.67 L132.36 207.28 L129.46 207.28 Z" fill="#e8201a"/>
<rect x="16.9" y="205.31" width="1.6" height="1.6" fill="#e8201a" />
<rect x="19.1" y="207.27" width="97.8" height="2.31" fill="#328a1f" stroke="#5f6a58" stroke-width="0.4" />
<rect x="116.2" y="207.47" width="0.7" height="1.92" fill="#111" />
<rect x="117.5" y="207.82" width="1.2" height="1.2" fill="#222" />
<path d="M40.82 206.98 L42.27 209.59 L39.37 209.59 Z" fill="#e8201a"/>
<path d="M64.69 206.98 L66.14 209.59 L63.24 209.59 Z" fill="#e8201a"/>
<path d="M86.55 206.98 L88 209.59 L85.1 209.59 Z" fill="#e8201a"/>
<path d="M108.42 206.98 L109.87 209.59 L106.97 209.59 Z" fill="#e8201a"/>
<rect x="16.9" y="207.62" width="1.6" height="1.6" fill="#e8201a" />
<rect x="11.5" y="207.72" width="1.4" height="1.4" fill="#333" />
<rect x="19.1" y="209.59" width="86.4" height="2.31" fill="#328a1f" stroke="#5f6a58" stroke-width="0.4" />
<rect x="104.8" y="209.79" width="0.7" height="1.92" fill="#111" />
<rect x="106.1" y="210.14" width="1.2" height="1.2" fill="#222" />
<path d="M41.02 209.3 L42.47 211.91 L39.57 211.91 Z" fill="#e8201a"/>
<path d="M63.45 209.3 L64.9 211.91 L62 211.91 Z" fill="#e8201a"/>
<path d="M87.44 209.3 L88.89 211.91 L85.99 211.91 Z" fill="#e8201a"/>
<rect x="16.9" y="209.94" width="1.6" height="1.6" fill="#e8201a" />
<rect x="19.1" y="211.9" width="70.3" height="2.31" fill="#328a1f" stroke="#5f6a58" stroke-width="0.4" />
<rect x="88.7" y="212.1" width="0.7" height="1.92" fill="#111" />
<rect x="90" y="212.45" width="1.2" height="1.2" fill="#222" />
<path d="M41.41 211.61 L42.86 214.22 L39.96 214.22 Z" fill="#e8201a"/>
<path d="M57.28 211.61 L58.73 214.22 L55.83 214.22 Z" fill="#e8201a"/>
<path d="M86.44 211.61 L87.89 214.22 L84.99 214.22 Z" fill="#e8201a"/>
<rect x="16.9" y="212.25" width="1.6" height="1.6" fill="#e8201a" />
<rect x="11.5" y="212.35" width="1.4" height="1.4" fill="#333" />
<rect x="19.1" y="214.22" width="51.1" height="2.31" fill="#328a1f" stroke="#5f6a58" stroke-width="0.4" />
<rect x="69.5" y="214.42" width="0.7" height="1.92" fill="#111" />
<rect x="70.8" y="214.77" width="1.2" height="1.2" fill="#222" />
<path d="M42.25 213.93 L43.7 216.54 L40.8 216.54 Z" fill="#e8201a"/>
<path d="M63.63 213.93 L65.08 216.54 L62.18 216.54 Z" fill="#e8201a"/>
<rect x="16.9" y="214.57" width="1.6" height="1.6" fill="#e8201a" />
<rect x="19.1" y="216.53" width="47.4" height="2.31" fill="#328a1f" stroke="#5f6a58" stroke-width="0.4" />
<rect x="65.8" y="216.73" width="0.7" height="1.92" fill="#111" />
<rect x="67.1" y="217.09" width="1.2" height="1.2" fill="#222" />
<path d="M41.83 216.24 L43.28 218.85 L40.38 218.85 Z" fill="#e8201a"/>
<path d="M62.92 216.24 L64.37 218.85 L61.47 218.85 Z" fill="#e8201a"/>
<rect x="19.1" y="218.85" width="38.1" height="2.31" fill="#328a1f" stroke="#5f6a58" stroke-width="0.4" />
<rect x="56.5" y="219.05" width="0.7" height="1.92" fill="#111" />
<rect x="57.8" y="219.4" width="1.2" height="1.2" fill="#222" />
<path d="M40.76 218.56 L42.21 221.17 L39.31 221.17 Z" fill="#e8201a"/>
<rect x="16.9" y="219.2" width="1.6" height="1.6" fill="#e8201a" />
<rect x="19.1" y="221.16" width="16.4" height="2.31" fill="#328a1f" stroke="#5f6a58" stroke-width="0.4" />
<rect x="34.8" y="221.36" width="0.7" height="1.92" fill="#111" />
<rect x="36.1" y="221.72" width="1.2" height="1.2" fill="#222" />
<rect x="16.9" y="221.51" width="1.6" height="1.6" fill="#e8201a" />
<rect x="19.1" y="223.48" width="10.5" height="2.31" fill="#328a1f" stroke="#5f6a58" stroke-width="0.4" />
<rect x="28.9" y="223.68" width="0.7" height="1.92" fill="#111" />
<rect x="30.2" y="224.03" width="1.2" height="1.2" fill="#222" />
<rect x="16.9" y="223.83" width="1.6" height="1.6" fill="#e8201a" />
<rect x="19.1" y="225.79" width="10.5" height="2.31" fill="#328a1f" stroke="#5f6a58" stroke-width="0.4" />
<rect x="28.9" y="225.99" width="0.7" height="1.92" fill="#111" />
<rect x="30.2" y="226.34" width="1.2" height="1.2" fill="#222" />
<rect x="16.9" y="226.14" width="1.6" height="1.6" fill="#e8201a" />
<rect x="19.1" y="228.11" width="283.4" height="2.31" fill="#eda32e" stroke="#4a4030" stroke-width="0.4" />
<rect x="301.8" y="228.31" width="0.7" height="1.92" fill="#111" />
<rect x="303.1" y="228.66" width="1.2" height="1.2" fill="#222" />
<path d="M34.29 227.82 L35.74 230.43 L32.84 230.43 Z" fill="#e8201a"/>
<path d="M51.92 227.82 L53.37 230.43 L50.47 230.43 Z" fill="#e8201a"/>
<path d="M68.28 227.82 L69.73 230.43 L66.83 230.43 Z" fill="#e8201a"/>
<path d="M82.87 227.82 L84.32 230.43 L81.42 230.43 Z" fill="#e8201a"/>
<path d="M99.48 227.82 L100.93 230.43 L98.03 230.43 Z" fill="#e8201a"/>
<path d="M116.7 227.82 L118.15 230.43 L115.25 230.43 Z" fill="#e8201a"/>
<path d="M126.83 227.82 L128.28 230.43 L125.38 230.43 Z" fill="#e8201a"/>
<path d="M147.76 227.82 L149.21 230.43 L146.31 230.43 Z" fill="#e8201a"/>
<path d="M163.9 227.82 L165.35 230.43 L162.45 230.43 Z" fill="#e8201a"/>
<path d="M181.82 227.82 L183.27 230.43 L180.37 230.43 Z" fill="#e8201a"/>
<path d="M230.55 227.82 L232 230.43 L229.1 230.43 Z" fill="#e8201a"/>
<path d="M244.58 227.82 L246.03 230.43 L243.13 230.43 Z" fill="#e8201a"/>
<path d="M294.55 227.82 L296 230.43 L293.1 230.43 Z" fill="#e8201a"/>
<rect x="16.9" y="228.46" width="1.6" height="1.6" fill="#e8201a" />
<rect x="19.1" y="230.42" width="269.3" height="2.31" fill="#eda32e" stroke="#4a4030" stroke-width="0.4" />
<rect x="287.7" y="230.62" width="0.7" height="1.92" fill="#111" />
<rect x="289" y="230.97" width="1.2" height="1.2" fill="#222" />
<path d="M34.17 230.13 L35.62 232.74 L32.72 232.74 Z" fill="#e8201a"/>
<path d="M50.01 230.13 L51.46 232.74 L48.56 232.74 Z" fill="#e8201a"/>
<path d="M76.21 230.13 L77.66 232.74 L74.76 232.74 Z" fill="#e8201a"/>
<path d="M84.87 230.13 L86.32 232.74 L83.42 232.74 Z" fill="#e8201a"/>
<path d="M100.9 230.13 L102.35 232.74 L99.45 232.74 Z" fill="#e8201a"/>
<path d="M115.32 230.13 L116.77 232.74 L113.87 232.74 Z" fill="#e8201a"/>
<path d="M131.74 230.13 L133.19 232.74 L130.29 232.74 Z" fill="#e8201a"/>
<path d="M148.73 230.13 L150.18 232.74 L147.28 232.74 Z" fill="#e8201a"/>
<path d="M164.48 230.13 L165.93 232.74 L163.03 232.74 Z" fill="#e8201a"/>
<path d="M180.51 230.13 L181.96 232.74 L179.06 232.74 Z" fill="#e8201a"/>
<path d="M198.19 230.13 L199.64 232.74 L196.74 232.74 Z" fill="#e8201a"/>
<path d="M213.3 230.13 L214.75 232.74 L211.85 232.74 Z" fill="#e8201a"/>
<path d="M261.83 230.13 L263.28 232.74 L260.38 232.74 Z" fill="#e8201a"/>
<path d="M277.63 230.13 L279.08 232.74 L276.18 232.74 Z" fill="#e8201a"/>
<rect x="16.9" y="230.77" width="1.6" height="1.6" fill="#e8201a" />
<rect x="11.5" y="230.87" width="1.4" height="1.4" fill="#333" />
<rect x="19.1" y="232.74" width="250.9" height="2.31" fill="#eda32e" stroke="#4a4030" stroke-width="0.4" />
<rect x="269.3" y="232.94" width="0.7" height="1.92" fill="#111" />
<rect x="270.6" y="233.29" width="1.2" height="1.2" fill="#222" />
<path d="M40.61 232.45 L42.06 235.06 L39.16 235.06 Z" fill="#e8201a"/>
<path d="M51.47 232.45 L52.92 235.06 L50.02 235.06 Z" fill="#e8201a"/>
<path d="M68.61 232.45 L70.06 235.06 L67.16 235.06 Z" fill="#e8201a"/>
<path d="M84 232.45 L85.45 235.06 L82.55 235.06 Z" fill="#e8201a"/>
<path d="M99.93 232.45 L101.38 235.06 L98.48 235.06 Z" fill="#e8201a"/>
<path d="M115.97 232.45 L117.42 235.06 L114.52 235.06 Z" fill="#e8201a"/>
<path d="M132.24 232.45 L133.69 235.06 L130.79 235.06 Z" fill="#e8201a"/>
<path d="M149.04 232.45 L150.49 235.06 L147.59 235.06 Z" fill="#e8201a"/>
<path d="M165.89 232.45 L167.34 235.06 L164.44 235.06 Z" fill="#e8201a"/>
<path d="M228.48 232.45 L229.93 235.06 L227.03 235.06 Z" fill="#e8201a"/>
<path d="M260.92 232.45 L262.37 235.06 L259.47 235.06 Z" fill="#e8201a"/>
<rect x="16.9" y="233.09" width="1.6" height="1.6" fill="#e8201a" />
<rect x="19.1" y="235.05" width="246.6" height="2.31" fill="#eda32e" stroke="#4a4030" stroke-width="0.4" />
<rect x="265" y="235.25" width="0.7" height="1.92" fill="#111" />
<rect x="266.3" y="235.6" width="1.2" height="1.2" fill="#222" />
<path d="M34.35 234.76 L35.8 237.37 L32.9 237.37 Z" fill="#e8201a"/>
<path d="M52.63 234.76 L54.08 237.37 L51.18 237.37 Z" fill="#e8201a"/>
<path d="M67.29 234.76 L68.74 237.37 L65.84 237.37 Z" fill="#e8201a"/>
<path d="M82.6 234.76 L84.05 237.37 L81.15 237.37 Z" fill="#e8201a"/>
<path d="M99.46 234.76 L100.91 237.37 L98.01 237.37 Z" fill="#e8201a"/>
<path d="M116.65 234.76 L118.1 237.37 L115.2 237.37 Z" fill="#e8201a"/>
<path d="M132.35 234.76 L133.8 237.37 L130.9 237.37 Z" fill="#e8201a"/>
<path d="M142.99 234.76 L144.44 237.37 L141.54 237.37 Z" fill="#e8201a"/>
<path d="M182 234.76 L183.45 237.37 L180.55 237.37 Z" fill="#e8201a"/>
<path d="M197.96 234.76 L199.41 237.37 L196.51 237.37 Z" fill="#e8201a"/>
<path d="M214.5 234.76 L215.95 237.37 L213.05 237.37 Z" fill="#e8201a"/>
<rect x="16.9" y="235.4" width="1.6" height="1.6" fill="#e8201a" />
<rect x="11.5" y="235.5" width="1.4" height="1.4" fill="#333" />
<rect x="19.1" y="237.37" width="233.1" height="2.31" fill="#eda32e" stroke="#4a4030" stroke-width="0.4" />
<rect x="251.5" y="237.57" width="0.7" height="1.92" fill="#111" />
<rect x="252.8" y="237.92" width="1.2" height="1.2" fill="#222" />
<path d="M34.46 237.08 L35.91 239.69 L33.01 239.69 Z" fill="#e8201a"/>
<path d="M49.98 237.08 L51.43 239.69 L48.53 239.69 Z" fill="#e8201a"/>
<path d="M67.28 237.08 L68.73 239.69 L65.83 239.69 Z" fill="#e8201a"/>
<path d="M92.13 237.08 L93.58 239.69 L90.68 239.69 Z" fill="#e8201a"/>
<path d="M92.44 237.08 L93.89 239.69 L90.99 239.69 Z" fill="#e8201a"/>
<path d="M115.46 237.08 L116.91 239.69 L114.01 239.69 Z" fill="#e8201a"/>
<path d="M133.47 237.08 L134.92 239.69 L132.02 239.69 Z" fill="#e8201a"/>
<path d="M148.58 237.08 L150.03 239.69 L147.13 239.69 Z" fill="#e8201a"/>
<path d="M195.8 237.08 L197.25 239.69 L194.35 239.69 Z" fill="#e8201a"/>
<path d="M213.34 237.08 L214.79 239.69 L211.89 239.69 Z" fill="#e8201a"/>
<path d="M229.93 237.08 L231.38 239.69 L228.48 239.69 Z" fill="#e8201a"/>
<path d="M245.82 237.08 L247.27 239.69 L244.37 239.69 Z" fill="#e8201a"/>
<rect x="16.9" y="237.72" width="1.6" height="1.6" fill="#e8201a" />
<rect x="11.5" y="237.82" width="1.4" height="1.4" fill="#333" />
<rect x="19.1" y="239.69" width="220.9" height="2.31" fill="#eda32e" stroke="#4a4030" stroke-width="0.4" />
<rect x="239.3" y="239.88" width="0.7" height="1.92" fill="#111" />
<rect x="240.6" y="240.24" width="1.2" height="1.2" fill="#222" />
<path d="M36.13 239.39 L37.58 242 L34.68 242 Z" fill="#e8201a"/>
<path d="M50.33 239.39 L51.78 242 L48.88 242 Z" fill="#e8201a"/>
<path d="M68.8 239.39 L70.25 242 L67.35 242 Z" fill="#e8201a"/>
<path d="M82.39 239.39 L83.84 242 L80.94 242 Z" fill="#e8201a"/>
<path d="M100.93 239.39 L102.38 242 L99.48 242 Z" fill="#e8201a"/>
<path d="M114.9 239.39 L116.35 242 L113.45 242 Z" fill="#e8201a"/>
<path d="M131.98 239.39 L133.43 242 L130.53 242 Z" fill="#e8201a"/>
<path d="M149.77 239.39 L151.22 242 L148.32 242 Z" fill="#e8201a"/>
<path d="M180.75 239.39 L182.2 242 L179.3 242 Z" fill="#e8201a"/>
<path d="M228.15 239.39 L229.6 242 L226.7 242 Z" fill="#e8201a"/>
<rect x="16.9" y="240.03" width="1.6" height="1.6" fill="#e8201a" />
<rect x="11.5" y="240.13" width="1.4" height="1.4" fill="#333" />
<rect x="19.1" y="242" width="219.8" height="2.31" fill="#eda32e" stroke="#4a4030" stroke-width="0.4" />
<rect x="238.2" y="242.2" width="0.7" height="1.92" fill="#111" />
<rect x="239.5" y="242.55" width="1.2" height="1.2" fill="#222" />
<path d="M41.21 241.71 L42.66 244.32 L39.76 244.32 Z" fill="#e8201a"/>
<path d="M51.53 241.71 L52.98 244.32 L50.08 244.32 Z" fill="#e8201a"/>
<path d="M66.96 241.71 L68.41 244.32 L65.51 244.32 Z" fill="#e8201a"/>
<path d="M82.58 241.71 L84.03 244.32 L81.13 244.32 Z" fill="#e8201a"/>
<path d="M100.85 241.71 L102.3 244.32 L99.4 244.32 Z" fill="#e8201a"/>
<path d="M117.16 241.71 L118.61 244.32 L115.71 244.32 Z" fill="#e8201a"/>
<path d="M132.56 241.71 L134.01 244.32 L131.11 244.32 Z" fill="#e8201a"/>
<path d="M149.1 241.71 L150.55 244.32 L147.65 244.32 Z" fill="#e8201a"/>
<path d="M181.78 241.71 L183.23 244.32 L180.33 244.32 Z" fill="#e8201a"/>
<path d="M196.91 241.71 L198.36 244.32 L195.46 244.32 Z" fill="#e8201a"/>
<path d="M214.41 241.71 L215.86 244.32 L212.96 244.32 Z" fill="#e8201a"/>
<rect x="16.9" y="242.35" width="1.6" height="1.6" fill="#e8201a" />
<rect x="19.1" y="244.31" width="190.7" height="2.31" fill="#eda32e" stroke="#4a4030" stroke-width="0.4" />
<rect x="209.1" y="244.51" width="0.7" height="1.92" fill="#111" />
<rect x="210.4" y="244.87" width="1.2" height="1.2" fill="#222" />
<path d="M35.59 244.02 L37.04 246.63 L34.14 246.63 Z" fill="#e8201a"/>
<path d="M43.82 244.02 L45.27 246.63 L42.37 246.63 Z" fill="#e8201a"/>
<path d="M67.87 244.02 L69.32 246.63 L66.42 246.63 Z" fill="#e8201a"/>
<path d="M83.37 244.02 L84.82 246.63 L81.92 246.63 Z" fill="#e8201a"/>
<path d="M106.79 244.02 L108.24 246.63 L105.34 246.63 Z" fill="#e8201a"/>
<path d="M116.59 244.02 L118.04 246.63 L115.14 246.63 Z" fill="#e8201a"/>
<path d="M130.96 244.02 L132.41 246.63 L129.51 246.63 Z" fill="#e8201a"/>
<path d="M149.17 244.02 L150.62 246.63 L147.72 246.63 Z" fill="#e8201a"/>
<rect x="16.9" y="244.66" width="1.6" height="1.6" fill="#e8201a" />
<rect x="11.5" y="244.76" width="1.4" height="1.4" fill="#333" />
<rect x="19.1" y="246.63" width="178.1" height="2.31" fill="#eda32e" stroke="#4a4030" stroke-width="0.4" />
<rect x="196.5" y="246.83" width="0.7" height="1.92" fill="#111" />
<rect x="197.8" y="247.18" width="1.2" height="1.2" fill="#222" />
<path d="M35.04 246.34 L36.49 248.95 L33.59 248.95 Z" fill="#e8201a"/>
<path d="M52.02 246.34 L53.47 248.95 L50.57 248.95 Z" fill="#e8201a"/>
<path d="M61.14 246.34 L62.59 248.95 L59.69 248.95 Z" fill="#e8201a"/>
<path d="M83.25 246.34 L84.7 248.95 L81.8 248.95 Z" fill="#e8201a"/>
<path d="M100.42 246.34 L101.87 248.95 L98.97 248.95 Z" fill="#e8201a"/>
<path d="M115.11 246.34 L116.56 248.95 L113.66 248.95 Z" fill="#e8201a"/>
<path d="M132.26 246.34 L133.71 248.95 L130.81 248.95 Z" fill="#e8201a"/>
<path d="M147.42 246.34 L148.87 248.95 L145.97 248.95 Z" fill="#e8201a"/>
<path d="M180.81 246.34 L182.26 248.95 L179.36 248.95 Z" fill="#e8201a"/>
<rect x="16.9" y="246.98" width="1.6" height="1.6" fill="#e8201a" />
<rect x="19.1" y="248.94" width="176.9" height="2.31" fill="#eda32e" stroke="#4a4030" stroke-width="0.4" />
<rect x="195.3" y="249.14" width="0.7" height="1.92" fill="#111" />
<rect x="196.6" y="249.5" width="1.2" height="1.2" fill="#222" />
<path d="M42.63 248.65 L44.08 251.26 L41.18 251.26 Z" fill="#e8201a"/>
<path d="M52.56 248.65 L54.01 251.26 L51.11 251.26 Z" fill="#e8201a"/>
<path d="M66.88 248.65 L68.33 251.26 L65.43 251.26 Z" fill="#e8201a"/>
<path d="M84.9 248.65 L86.35 251.26 L83.45 251.26 Z" fill="#e8201a"/>
<path d="M100.12 248.65 L101.57 251.26 L98.67 251.26 Z" fill="#e8201a"/>
<path d="M116.16 248.65 L117.61 251.26 L114.71 251.26 Z" fill="#e8201a"/>
<path d="M131.31 248.65 L132.76 251.26 L129.86 251.26 Z" fill="#e8201a"/>
<path d="M148.52 248.65 L149.97 251.26 L147.07 251.26 Z" fill="#e8201a"/>
<path d="M165.25 248.65 L166.7 251.26 L163.8 251.26 Z" fill="#e8201a"/>
<path d="M174.11 248.65 L175.56 251.26 L172.66 251.26 Z" fill="#e8201a"/>
<rect x="16.9" y="249.29" width="1.6" height="1.6" fill="#e8201a" />
<rect x="11.5" y="249.39" width="1.4" height="1.4" fill="#333" />
<rect x="19.1" y="251.26" width="175.5" height="2.31" fill="#eda32e" stroke="#4a4030" stroke-width="0.4" />
<rect x="193.9" y="251.46" width="0.7" height="1.92" fill="#111" />
<rect x="195.2" y="251.81" width="1.2" height="1.2" fill="#222" />
<path d="M34.77 250.97 L36.22 253.58 L33.32 253.58 Z" fill="#e8201a"/>
<path d="M50.84 250.97 L52.29 253.58 L49.39 253.58 Z" fill="#e8201a"/>
<path d="M67.06 250.97 L68.51 253.58 L65.61 253.58 Z" fill="#e8201a"/>
<path d="M84.89 250.97 L86.34 253.58 L83.44 253.58 Z" fill="#e8201a"/>
<path d="M98.58 250.97 L100.03 253.58 L97.13 253.58 Z" fill="#e8201a"/>
<path d="M122.18 250.97 L123.63 253.58 L120.73 253.58 Z" fill="#e8201a"/>
<path d="M133.65 250.97 L135.1 253.58 L132.2 253.58 Z" fill="#e8201a"/>
<path d="M148.12 250.97 L149.57 253.58 L146.67 253.58 Z" fill="#e8201a"/>
<rect x="16.9" y="251.61" width="1.6" height="1.6" fill="#e8201a" />
<rect x="19.1" y="253.57" width="172.6" height="2.31" fill="#eda32e" stroke="#4a4030" stroke-width="0.4" />
<rect x="191" y="253.77" width="0.7" height="1.92" fill="#111" />
<rect x="192.3" y="254.12" width="1.2" height="1.2" fill="#222" />
<path d="M35.87 253.28 L37.32 255.89 L34.42 255.89 Z" fill="#e8201a"/>
<path d="M50.03 253.28 L51.48 255.89 L48.58 255.89 Z" fill="#e8201a"/>
<path d="M67.23 253.28 L68.68 255.89 L65.78 255.89 Z" fill="#e8201a"/>
<path d="M83.85 253.28 L85.3 255.89 L82.4 255.89 Z" fill="#e8201a"/>
<path d="M98.77 253.28 L100.22 255.89 L97.32 255.89 Z" fill="#e8201a"/>
<path d="M115.86 253.28 L117.31 255.89 L114.41 255.89 Z" fill="#e8201a"/>
<path d="M131.32 253.28 L132.77 255.89 L129.87 255.89 Z" fill="#e8201a"/>
<path d="M148.46 253.28 L149.91 255.89 L147.01 255.89 Z" fill="#e8201a"/>
<path d="M164.84 253.28 L166.29 255.89 L163.39 255.89 Z" fill="#e8201a"/>
<path d="M180.31 253.28 L181.76 255.89 L178.86 255.89 Z" fill="#e8201a"/>
<rect x="16.9" y="253.92" width="1.6" height="1.6" fill="#e8201a" />
<rect x="19.1" y="255.89" width="165.5" height="2.31" fill="#eda32e" stroke="#4a4030" stroke-width="0.4" />
<rect x="183.9" y="256.09" width="0.7" height="1.92" fill="#111" />
<rect x="185.2" y="256.44" width="1.2" height="1.2" fill="#222" />
<path d="M43.66 255.6 L45.11 258.21 L42.21 258.21 Z" fill="#e8201a"/>
<path d="M50.39 255.6 L51.84 258.21 L48.94 258.21 Z" fill="#e8201a"/>
<path d="M68.6 255.6 L70.05 258.21 L67.15 258.21 Z" fill="#e8201a"/>
<path d="M82.94 255.6 L84.39 258.21 L81.49 258.21 Z" fill="#e8201a"/>
<path d="M101.24 255.6 L102.69 258.21 L99.79 258.21 Z" fill="#e8201a"/>
<path d="M115.13 255.6 L116.58 258.21 L113.68 258.21 Z" fill="#e8201a"/>
<path d="M131.19 255.6 L132.64 258.21 L129.74 258.21 Z" fill="#e8201a"/>
<path d="M147.4 255.6 L148.85 258.21 L145.95 258.21 Z" fill="#e8201a"/>
<path d="M164.05 255.6 L165.5 258.21 L162.6 258.21 Z" fill="#e8201a"/>
<path d="M181.57 255.6 L183.02 258.21 L180.12 258.21 Z" fill="#e8201a"/>
<rect x="16.9" y="256.24" width="1.6" height="1.6" fill="#e8201a" />
<rect x="11.5" y="256.34" width="1.4" height="1.4" fill="#333" />
<rect x="19.1" y="258.2" width="153.7" height="2.31" fill="#eda32e" stroke="#4a4030" stroke-width="0.4" />
<rect x="172.1" y="258.4" width="0.7" height="1.92" fill="#111" />
<rect x="173.4" y="258.75" width="1.2" height="1.2" fill="#222" />
<path d="M34.5 257.91 L35.95 260.52 L33.05 260.52 Z" fill="#e8201a"/>
<path d="M50.29 257.91 L51.74 260.52 L48.84 260.52 Z" fill="#e8201a"/>
<path d="M67.85 257.91 L69.3 260.52 L66.4 260.52 Z" fill="#e8201a"/>
<path d="M82.93 257.91 L84.38 260.52 L81.48 260.52 Z" fill="#e8201a"/>
<path d="M99.22 257.91 L100.67 260.52 L97.77 260.52 Z" fill="#e8201a"/>
<path d="M115.95 257.91 L117.4 260.52 L114.5 260.52 Z" fill="#e8201a"/>
<path d="M133.24 257.91 L134.69 260.52 L131.79 260.52 Z" fill="#e8201a"/>
<path d="M155.31 257.91 L156.76 260.52 L153.86 260.52 Z" fill="#e8201a"/>
<path d="M165.52 257.91 L166.97 260.52 L164.07 260.52 Z" fill="#e8201a"/>
<rect x="19.1" y="260.52" width="143.3" height="2.31" fill="#eda32e" stroke="#4a4030" stroke-width="0.4" />
<rect x="161.7" y="260.72" width="0.7" height="1.92" fill="#111" />
<rect x="163" y="261.07" width="1.2" height="1.2" fill="#222" />
<path d="M35.01 260.23 L36.46 262.84 L33.56 262.84 Z" fill="#e8201a"/>
<path d="M52.06 260.23 L53.51 262.84 L50.61 262.84 Z" fill="#e8201a"/>
<path d="M66.56 260.23 L68.01 262.84 L65.11 262.84 Z" fill="#e8201a"/>
<path d="M82.64 260.23 L84.09 262.84 L81.19 262.84 Z" fill="#e8201a"/>
<path d="M100.44 260.23 L101.89 262.84 L98.99 262.84 Z" fill="#e8201a"/>
<path d="M110.42 260.23 L111.87 262.84 L108.97 262.84 Z" fill="#e8201a"/>
<path d="M130.95 260.23 L132.4 262.84 L129.5 262.84 Z" fill="#e8201a"/>
<rect x="16.9" y="260.87" width="1.6" height="1.6" fill="#e8201a" />
<rect x="19.1" y="262.83" width="140.2" height="2.31" fill="#eda32e" stroke="#4a4030" stroke-width="0.4" />
<rect x="158.6" y="263.03" width="0.7" height="1.92" fill="#111" />
<rect x="159.9" y="263.38" width="1.2" height="1.2" fill="#222" />
<path d="M42.15 262.54 L43.6 265.15 L40.7 265.15 Z" fill="#e8201a"/>
<path d="M52.5 262.54 L53.95 265.15 L51.05 265.15 Z" fill="#e8201a"/>
<path d="M66.85 262.54 L68.3 265.15 L65.4 265.15 Z" fill="#e8201a"/>
<path d="M82.35 262.54 L83.8 265.15 L80.9 265.15 Z" fill="#e8201a"/>
<path d="M101.24 262.54 L102.69 265.15 L99.79 265.15 Z" fill="#e8201a"/>
<path d="M115.6 262.54 L117.05 265.15 L114.15 265.15 Z" fill="#e8201a"/>
<path d="M131.6 262.54 L133.05 265.15 L130.15 265.15 Z" fill="#e8201a"/>
<path d="M155.38 262.54 L156.83 265.15 L153.93 265.15 Z" fill="#e8201a"/>
<rect x="19.1" y="265.15" width="136.9" height="2.31" fill="#eda32e" stroke="#4a4030" stroke-width="0.4" />
<rect x="155.3" y="265.35" width="0.7" height="1.92" fill="#111" />
<rect x="156.6" y="265.7" width="1.2" height="1.2" fill="#222" />
<path d="M33.97 264.86 L35.42 267.47 L32.52 267.47 Z" fill="#e8201a"/>
<path d="M51.1 264.86 L52.55 267.47 L49.65 267.47 Z" fill="#e8201a"/>
<path d="M67.48 264.86 L68.93 267.47 L66.03 267.47 Z" fill="#e8201a"/>
<path d="M84.29 264.86 L85.74 267.47 L82.84 267.47 Z" fill="#e8201a"/>
<path d="M106.37 264.86 L107.82 267.47 L104.92 267.47 Z" fill="#e8201a"/>
<path d="M116.75 264.86 L118.2 267.47 L115.3 267.47 Z" fill="#e8201a"/>
<path d="M131.5 264.86 L132.95 267.47 L130.05 267.47 Z" fill="#e8201a"/>
<path d="M147.99 264.86 L149.44 267.47 L146.54 267.47 Z" fill="#e8201a"/>
<rect x="16.9" y="265.5" width="1.6" height="1.6" fill="#e8201a" />
<rect x="11.5" y="265.6" width="1.4" height="1.4" fill="#333" />
<rect x="19.1" y="267.46" width="128.8" height="2.31" fill="#eda32e" stroke="#4a4030" stroke-width="0.4" />
<rect x="147.2" y="267.66" width="0.7" height="1.92" fill="#111" />
<rect x="148.5" y="268.01" width="1.2" height="1.2" fill="#222" />
<path d="M36.32 267.17 L37.77 269.78 L34.87 269.78 Z" fill="#e8201a"/>
<path d="M50.46 267.17 L51.91 269.78 L49.01 269.78 Z" fill="#e8201a"/>
<path d="M67.28 267.17 L68.73 269.78 L65.83 269.78 Z" fill="#e8201a"/>
<path d="M84.91 267.17 L86.36 269.78 L83.46 269.78 Z" fill="#e8201a"/>
<path d="M99.61 267.17 L101.06 269.78 L98.16 269.78 Z" fill="#e8201a"/>
<path d="M117.38 267.17 L118.83 269.78 L115.93 269.78 Z" fill="#e8201a"/>
<path d="M137.84 267.17 L139.29 269.78 L136.39 269.78 Z" fill="#e8201a"/>
<rect x="16.9" y="267.81" width="1.6" height="1.6" fill="#e8201a" />
<rect x="11.5" y="267.91" width="1.4" height="1.4" fill="#333" />
<rect x="19.1" y="269.78" width="123.1" height="2.31" fill="#eda32e" stroke="#4a4030" stroke-width="0.4" />
<rect x="141.5" y="269.98" width="0.7" height="1.92" fill="#111" />
<rect x="142.8" y="270.33" width="1.2" height="1.2" fill="#222" />
<path d="M33.96 269.49 L35.41 272.1 L32.51 272.1 Z" fill="#e8201a"/>
<path d="M50.46 269.49 L51.91 272.1 L49.01 272.1 Z" fill="#e8201a"/>
<path d="M67.57 269.49 L69.02 272.1 L66.12 272.1 Z" fill="#e8201a"/>
<path d="M83.19 269.49 L84.64 272.1 L81.74 272.1 Z" fill="#e8201a"/>
<path d="M100.82 269.49 L102.27 272.1 L99.37 272.1 Z" fill="#e8201a"/>
<path d="M109.19 269.49 L110.64 272.1 L107.74 272.1 Z" fill="#e8201a"/>
<path d="M131.71 269.49 L133.16 272.1 L130.26 272.1 Z" fill="#e8201a"/>
<rect x="11.5" y="270.23" width="1.4" height="1.4" fill="#333" />
<rect x="19.1" y="272.09" width="106.5" height="2.31" fill="#eda32e" stroke="#4a4030" stroke-width="0.4" />
<rect x="124.9" y="272.29" width="0.7" height="1.92" fill="#111" />
<rect x="126.2" y="272.64" width="1.2" height="1.2" fill="#222" />
<path d="M34.71 271.8 L36.16 274.41 L33.26 274.41 Z" fill="#e8201a"/>
<path d="M52.17 271.8 L53.62 274.41 L50.72 274.41 Z" fill="#e8201a"/>
<path d="M66.28 271.8 L67.73 274.41 L64.83 274.41 Z" fill="#e8201a"/>
<path d="M83.36 271.8 L84.81 274.41 L81.91 274.41 Z" fill="#e8201a"/>
<path d="M99.07 271.8 L100.52 274.41 L97.62 274.41 Z" fill="#e8201a"/>
<path d="M123.92 271.8 L125.37 274.41 L122.47 274.41 Z" fill="#e8201a"/>
<rect x="16.9" y="272.44" width="1.6" height="1.6" fill="#e8201a" />
<rect x="11.5" y="272.54" width="1.4" height="1.4" fill="#333" />
<rect x="19.1" y="274.41" width="97.8" height="2.31" fill="#eda32e" stroke="#4a4030" stroke-width="0.4" />
<rect x="116.2" y="274.61" width="0.7" height="1.92" fill="#111" />
<rect x="117.5" y="274.96" width="1.2" height="1.2" fill="#222" />
<path d="M35 274.12 L36.45 276.73 L33.55 276.73 Z" fill="#e8201a"/>
<path d="M50.12 274.12 L51.57 276.73 L48.67 276.73 Z" fill="#e8201a"/>
<path d="M66.32 274.12 L67.77 276.73 L64.87 276.73 Z" fill="#e8201a"/>
<path d="M83.33 274.12 L84.78 276.73 L81.88 276.73 Z" fill="#e8201a"/>
<path d="M109.23 274.12 L110.68 276.73 L107.78 276.73 Z" fill="#e8201a"/>
<rect x="16.9" y="274.76" width="1.6" height="1.6" fill="#e8201a" />
<rect x="11.5" y="274.86" width="1.4" height="1.4" fill="#333" />
<rect x="19.1" y="276.72" width="97.5" height="2.31" fill="#eda32e" stroke="#4a4030" stroke-width="0.4" />
<rect x="115.9" y="276.92" width="0.7" height="1.92" fill="#111" />
<rect x="117.2" y="277.27" width="1.2" height="1.2" fill="#222" />
<path d="M35.79 276.43 L37.24 279.04 L34.34 279.04 Z" fill="#e8201a"/>
<path d="M51.66 276.43 L53.11 279.04 L50.21 279.04 Z" fill="#e8201a"/>
<path d="M66.22 276.43 L67.67 279.04 L64.77 279.04 Z" fill="#e8201a"/>
<path d="M83.63 276.43 L85.08 279.04 L82.18 279.04 Z" fill="#e8201a"/>
<path d="M101.13 276.43 L102.58 279.04 L99.68 279.04 Z" fill="#e8201a"/>
<rect x="16.9" y="277.07" width="1.6" height="1.6" fill="#e8201a" />
<rect x="19.1" y="279.04" width="89.5" height="2.31" fill="#eda32e" stroke="#4a4030" stroke-width="0.4" />
<rect x="107.9" y="279.24" width="0.7" height="1.92" fill="#111" />
<rect x="109.2" y="279.59" width="1.2" height="1.2" fill="#222" />
<path d="M34.24 278.75 L35.69 281.36 L32.79 281.36 Z" fill="#e8201a"/>
<path d="M51.94 278.75 L53.39 281.36 L50.49 281.36 Z" fill="#e8201a"/>
<path d="M68.24 278.75 L69.69 281.36 L66.79 281.36 Z" fill="#e8201a"/>
<path d="M83.24 278.75 L84.69 281.36 L81.79 281.36 Z" fill="#e8201a"/>
<path d="M99.53 278.75 L100.98 281.36 L98.08 281.36 Z" fill="#e8201a"/>
<rect x="16.9" y="279.39" width="1.6" height="1.6" fill="#e8201a" />
<rect x="11.5" y="279.49" width="1.4" height="1.4" fill="#333" />
<rect x="19.1" y="281.36" width="82.8" height="2.31" fill="#eda32e" stroke="#4a4030" stroke-width="0.4" />
<rect x="101.2" y="281.56" width="0.7" height="1.92" fill="#111" />
<rect x="102.5" y="281.91" width="1.2" height="1.2" fill="#222" />
<path d="M42.02 281.06 L43.47 283.67 L40.57 283.67 Z" fill="#e8201a"/>
<path d="M51.42 281.06 L52.87 283.67 L49.97 283.67 Z" fill="#e8201a"/>
<path d="M60.55 281.06 L62 283.67 L59.1 283.67 Z" fill="#e8201a"/>
<path d="M76.32 281.06 L77.77 283.67 L74.87 283.67 Z" fill="#e8201a"/>
<path d="M99.69 281.06 L101.14 283.67 L98.24 283.67 Z" fill="#e8201a"/>
<rect x="16.9" y="281.71" width="1.6" height="1.6" fill="#e8201a" />
<rect x="19.1" y="283.67" width="80.5" height="2.31" fill="#eda32e" stroke="#4a4030" stroke-width="0.4" />
<rect x="98.9" y="283.87" width="0.7" height="1.92" fill="#111" />
<rect x="100.2" y="284.22" width="1.2" height="1.2" fill="#222" />
<path d="M36.16 283.38 L37.61 285.99 L34.71 285.99 Z" fill="#e8201a"/>
<path d="M51.4 283.38 L52.85 285.99 L49.95 285.99 Z" fill="#e8201a"/>
<path d="M68.2 283.38 L69.65 285.99 L66.75 285.99 Z" fill="#e8201a"/>
<path d="M83.14 283.38 L84.59 285.99 L81.69 285.99 Z" fill="#e8201a"/>
<rect x="16.9" y="284.02" width="1.6" height="1.6" fill="#e8201a" />
<rect x="11.5" y="284.12" width="1.4" height="1.4" fill="#333" />
<rect x="19.1" y="285.99" width="69.7" height="2.31" fill="#eda32e" stroke="#4a4030" stroke-width="0.4" />
<rect x="88.1" y="286.19" width="0.7" height="1.92" fill="#111" />
<rect x="89.4" y="286.54" width="1.2" height="1.2" fill="#222" />
<path d="M34.25 285.69 L35.7 288.3 L32.8 288.3 Z" fill="#e8201a"/>
<path d="M50.71 285.69 L52.16 288.3 L49.26 288.3 Z" fill="#e8201a"/>
<path d="M73.41 285.69 L74.86 288.3 L71.96 288.3 Z" fill="#e8201a"/>
<path d="M85.03 285.69 L86.48 288.3 L83.58 288.3 Z" fill="#e8201a"/>
<rect x="16.9" y="286.34" width="1.6" height="1.6" fill="#e8201a" />
<rect x="19.1" y="288.3" width="64.8" height="2.31" fill="#eda32e" stroke="#4a4030" stroke-width="0.4" />
<rect x="83.2" y="288.5" width="0.7" height="1.92" fill="#111" />
<rect x="84.5" y="288.85" width="1.2" height="1.2" fill="#222" />
<path d="M34.03 288.01 L35.48 290.62 L32.58 290.62 Z" fill="#e8201a"/>
<path d="M52.16 288.01 L53.61 290.62 L50.71 290.62 Z" fill="#e8201a"/>
<path d="M75.37 288.01 L76.82 290.62 L73.92 290.62 Z" fill="#e8201a"/>
<rect x="19.1" y="290.62" width="64.3" height="2.31" fill="#eda32e" stroke="#4a4030" stroke-width="0.4" />
<rect x="82.7" y="290.81" width="0.7" height="1.92" fill="#111" />
<rect x="84" y="291.17" width="1.2" height="1.2" fill="#222" />
<path d="M36.26 290.32 L37.71 292.93 L34.81 292.93 Z" fill="#e8201a"/>
<path d="M52.29 290.32 L53.74 292.93 L50.84 292.93 Z" fill="#e8201a"/>
<path d="M66.85 290.32 L68.3 292.93 L65.4 292.93 Z" fill="#e8201a"/>
<rect x="16.9" y="290.97" width="1.6" height="1.6" fill="#e8201a" />
<rect x="11.5" y="291.06" width="1.4" height="1.4" fill="#333" />
<rect x="19.1" y="292.93" width="64.3" height="2.31" fill="#eda32e" stroke="#4a4030" stroke-width="0.4" />
<rect x="82.7" y="293.13" width="0.7" height="1.92" fill="#111" />
<rect x="84" y="293.48" width="1.2" height="1.2" fill="#222" />
<path d="M33.85 292.64 L35.3 295.25 L32.4 295.25 Z" fill="#e8201a"/>
<path d="M50.07 292.64 L51.52 295.25 L48.62 295.25 Z" fill="#e8201a"/>
<path d="M66.25 292.64 L67.7 295.25 L64.8 295.25 Z" fill="#e8201a"/>
<rect x="16.9" y="293.28" width="1.6" height="1.6" fill="#e8201a" />
<rect x="11.5" y="293.38" width="1.4" height="1.4" fill="#333" />
<rect x="19.1" y="295.25" width="64.3" height="2.31" fill="#eda32e" stroke="#4a4030" stroke-width="0.4" />
<rect x="82.7" y="295.44" width="0.7" height="1.92" fill="#111" />
<rect x="84" y="295.8" width="1.2" height="1.2" fill="#222" />
<path d="M34.75 294.95 L36.2 297.56 L33.3 297.56 Z" fill="#e8201a"/>
<path d="M56.91 294.95 L58.36 297.56 L55.46 297.56 Z" fill="#e8201a"/>
<path d="M60.88 294.95 L62.33 297.56 L59.43 297.56 Z" fill="#e8201a"/>
<rect x="16.9" y="295.6" width="1.6" height="1.6" fill="#e8201a" />
<rect x="19.1" y="297.56" width="56.3" height="2.31" fill="#eda32e" stroke="#4a4030" stroke-width="0.4" />
<rect x="74.7" y="297.76" width="0.7" height="1.92" fill="#111" />
<rect x="76" y="298.11" width="1.2" height="1.2" fill="#222" />
<path d="M35.51 297.27 L36.96 299.88 L34.06 299.88 Z" fill="#e8201a"/>
<path d="M50.68 297.27 L52.13 299.88 L49.23 299.88 Z" fill="#e8201a"/>
<path d="M67.95 297.27 L69.4 299.88 L66.5 299.88 Z" fill="#e8201a"/>
<rect x="11.5" y="298.01" width="1.4" height="1.4" fill="#333" />
<rect x="19.1" y="299.88" width="53.5" height="2.31" fill="#eda32e" stroke="#4a4030" stroke-width="0.4" />
<rect x="71.9" y="300.07" width="0.7" height="1.92" fill="#111" />
<rect x="73.2" y="300.43" width="1.2" height="1.2" fill="#222" />
<path d="M33.8 299.58 L35.25 302.19 L32.35 302.19 Z" fill="#e8201a"/>
<path d="M52.12 299.58 L53.57 302.19 L50.67 302.19 Z" fill="#e8201a"/>
<path d="M67.2 299.58 L68.65 302.19 L65.75 302.19 Z" fill="#e8201a"/>
<rect x="16.9" y="300.23" width="1.6" height="1.6" fill="#e8201a" />
<rect x="11.5" y="300.32" width="1.4" height="1.4" fill="#333" />
<rect x="19.1" y="302.19" width="52.6" height="2.31" fill="#eda32e" stroke="#4a4030" stroke-width="0.4" />
<rect x="71" y="302.39" width="0.7" height="1.92" fill="#111" />
<rect x="72.3" y="302.74" width="1.2" height="1.2" fill="#222" />
<path d="M33.99 301.9 L35.44 304.51 L32.54 304.51 Z" fill="#e8201a"/>
<path d="M50.93 301.9 L52.38 304.51 L49.48 304.51 Z" fill="#e8201a"/>
<path d="M59.75 301.9 L61.2 304.51 L58.3 304.51 Z" fill="#e8201a"/>
<rect x="16.9" y="302.54" width="1.6" height="1.6" fill="#e8201a" />
<rect x="19.1" y="304.5" width="50.7" height="2.31" fill="#eda32e" stroke="#4a4030" stroke-width="0.4" />
<rect x="69.1" y="304.7" width="0.7" height="1.92" fill="#111" />
<rect x="70.4" y="305.06" width="1.2" height="1.2" fill="#222" />
<path d="M34.75 304.21 L36.2 306.82 L33.3 306.82 Z" fill="#e8201a"/>
<path d="M50.34 304.21 L51.79 306.82 L48.89 306.82 Z" fill="#e8201a"/>
<path d="M67.56 304.21 L69.01 306.82 L66.11 306.82 Z" fill="#e8201a"/>
<rect x="16.9" y="304.86" width="1.6" height="1.6" fill="#e8201a" />
<rect x="19.1" y="306.82" width="48.3" height="2.31" fill="#eda32e" stroke="#4a4030" stroke-width="0.4" />
<rect x="66.7" y="307.02" width="0.7" height="1.92" fill="#111" />
<rect x="68" y="307.37" width="1.2" height="1.2" fill="#222" />
<path d="M34.28 306.53 L35.73 309.14 L32.83 309.14 Z" fill="#e8201a"/>
<path d="M52.5 306.53 L53.95 309.14 L51.05 309.14 Z" fill="#e8201a"/>
<rect x="16.9" y="307.17" width="1.6" height="1.6" fill="#e8201a" />
<rect x="19.1" y="309.13" width="48.3" height="2.31" fill="#eda32e" stroke="#4a4030" stroke-width="0.4" />
<rect x="66.7" y="309.33" width="0.7" height="1.92" fill="#111" />
<rect x="68" y="309.69" width="1.2" height="1.2" fill="#222" />
<path d="M35.42 308.84 L36.87 311.45 L33.97 311.45 Z" fill="#e8201a"/>
<path d="M50.38 308.84 L51.83 311.45 L48.93 311.45 Z" fill="#e8201a"/>
<rect x="16.9" y="309.49" width="1.6" height="1.6" fill="#e8201a" />
<rect x="19.1" y="311.45" width="48.8" height="2.31" fill="#eda32e" stroke="#4a4030" stroke-width="0.4" />
<rect x="67.2" y="311.65" width="0.7" height="1.92" fill="#111" />
<rect x="68.5" y="312" width="1.2" height="1.2" fill="#222" />
<path d="M34.24 311.16 L35.69 313.77 L32.79 313.77 Z" fill="#e8201a"/>
<path d="M51.03 311.16 L52.48 313.77 L49.58 313.77 Z" fill="#e8201a"/>
<rect x="16.9" y="311.8" width="1.6" height="1.6" fill="#e8201a" />
<rect x="19.1" y="313.76" width="48.3" height="2.31" fill="#eda32e" stroke="#4a4030" stroke-width="0.4" />
<rect x="66.7" y="313.96" width="0.7" height="1.92" fill="#111" />
<rect x="68" y="314.31" width="1.2" height="1.2" fill="#222" />
<path d="M44.27 313.47 L45.72 316.08 L42.82 316.08 Z" fill="#e8201a"/>
<path d="M52.22 313.47 L53.67 316.08 L50.77 316.08 Z" fill="#e8201a"/>
<rect x="16.9" y="314.12" width="1.6" height="1.6" fill="#e8201a" />
<rect x="19.1" y="316.08" width="48.2" height="2.31" fill="#eda32e" stroke="#4a4030" stroke-width="0.4" />
<rect x="66.6" y="316.28" width="0.7" height="1.92" fill="#111" />
<rect x="67.9" y="316.63" width="1.2" height="1.2" fill="#222" />
<path d="M36.04 315.79 L37.49 318.4 L34.59 318.4 Z" fill="#e8201a"/>
<path d="M51.7 315.79 L53.15 318.4 L50.25 318.4 Z" fill="#e8201a"/>
<rect x="16.9" y="316.43" width="1.6" height="1.6" fill="#e8201a" />
<rect x="19.1" y="318.39" width="41" height="2.31" fill="#eda32e" stroke="#4a4030" stroke-width="0.4" />
<rect x="59.4" y="318.59" width="0.7" height="1.92" fill="#111" />
<rect x="60.7" y="318.94" width="1.2" height="1.2" fill="#222" />
<path d="M40.98 318.1 L42.43 320.71 L39.53 320.71 Z" fill="#e8201a"/>
<path d="M51.21 318.1 L52.66 320.71 L49.76 320.71 Z" fill="#e8201a"/>
<rect x="16.9" y="318.75" width="1.6" height="1.6" fill="#e8201a" />
<rect x="19.1" y="320.71" width="40.5" height="2.31" fill="#eda32e" stroke="#4a4030" stroke-width="0.4" />
<rect x="58.9" y="320.91" width="0.7" height="1.92" fill="#111" />
<rect x="60.2" y="321.26" width="1.2" height="1.2" fill="#222" />
<path d="M41.58 320.42 L43.03 323.03 L40.13 323.03 Z" fill="#e8201a"/>
<path d="M57.86 320.42 L59.31 323.03 L56.41 323.03 Z" fill="#e8201a"/>
<rect x="16.9" y="321.06" width="1.6" height="1.6" fill="#e8201a" />
<rect x="11.5" y="321.16" width="1.4" height="1.4" fill="#333" />
<rect x="19.1" y="323.02" width="40" height="2.31" fill="#eda32e" stroke="#4a4030" stroke-width="0.4" />
<rect x="58.4" y="323.22" width="0.7" height="1.92" fill="#111" />
<rect x="59.7" y="323.57" width="1.2" height="1.2" fill="#222" />
<path d="M36.24 322.73 L37.69 325.34 L34.79 325.34 Z" fill="#e8201a"/>
<rect x="19.1" y="325.34" width="27.2" height="2.31" fill="#eda32e" stroke="#4a4030" stroke-width="0.4" />
<rect x="45.6" y="325.54" width="0.7" height="1.92" fill="#111" />
<rect x="46.9" y="325.89" width="1.2" height="1.2" fill="#222" />
<path d="M29.12 325.05 L30.57 327.66 L27.67 327.66 Z" fill="#e8201a"/>
<rect x="16.9" y="325.69" width="1.6" height="1.6" fill="#e8201a" />
<rect x="11.5" y="325.79" width="1.4" height="1.4" fill="#333" />
<rect x="19.1" y="327.65" width="23.4" height="2.31" fill="#eda32e" stroke="#4a4030" stroke-width="0.4" />
<rect x="41.8" y="327.85" width="0.7" height="1.92" fill="#111" />
<rect x="43.1" y="328.2" width="1.2" height="1.2" fill="#222" />
<path d="M36.4 327.36 L37.85 329.97 L34.95 329.97 Z" fill="#e8201a"/>
<rect x="16.9" y="328" width="1.6" height="1.6" fill="#e8201a" />
<rect x="19.1" y="329.97" width="23.4" height="2.31" fill="#eda32e" stroke="#4a4030" stroke-width="0.4" />
<rect x="41.8" y="330.17" width="0.7" height="1.92" fill="#111" />
<rect x="43.1" y="330.52" width="1.2" height="1.2" fill="#222" />
<rect x="16.9" y="330.32" width="1.6" height="1.6" fill="#e8201a" />
<rect x="11.5" y="330.42" width="1.4" height="1.4" fill="#333" />
<rect x="19.1" y="332.28" width="15.8" height="2.31" fill="#eda32e" stroke="#4a4030" stroke-width="0.4" />
<rect x="34.2" y="332.48" width="0.7" height="1.92" fill="#111" />
<rect x="35.5" y="332.83" width="1.2" height="1.2" fill="#222" />
<rect x="19.1" y="334.6" width="15.8" height="2.31" fill="#eda32e" stroke="#4a4030" stroke-width="0.4" />
<rect x="34.2" y="334.8" width="0.7" height="1.92" fill="#111" />
<rect x="35.5" y="335.15" width="1.2" height="1.2" fill="#222" />
<rect x="16.9" y="334.95" width="1.6" height="1.6" fill="#e8201a" />
<rect x="19.1" y="336.91" width="15.8" height="2.31" fill="#eda32e" stroke="#4a4030" stroke-width="0.4" />
<rect x="34.2" y="337.11" width="0.7" height="1.92" fill="#111" />
<rect x="35.5" y="337.46" width="1.2" height="1.2" fill="#222" />
<rect x="16.9" y="337.26" width="1.6" height="1.6" fill="#e8201a" />
<rect x="11.5" y="337.36" width="1.4" height="1.4" fill="#333" />
<rect x="19.1" y="339.23" width="15.8" height="2.31" fill="#eda32e" stroke="#4a4030" stroke-width="0.4" />
<rect x="34.2" y="339.43" width="0.7" height="1.92" fill="#111" />
<rect x="35.5" y="339.78" width="1.2" height="1.2" fill="#222" />
<rect x="16.9" y="339.58" width="1.6" height="1.6" fill="#e8201a" />
<rect x="11.5" y="339.68" width="1.4" height="1.4" fill="#333" />
<rect x="19.1" y="341.54" width="21.6" height="2.31" fill="#0d0b8c" stroke="#4a4030" stroke-width="0.4" />
<rect x="40" y="341.74" width="0.7" height="1.92" fill="#111" />
<rect x="41.3" y="342.09" width="1.2" height="1.2" fill="#222" />
<rect x="16.9" y="341.89" width="1.6" height="1.6" fill="#e8201a" />
<rect x="19.1" y="343.86" width="21.3" height="2.31" fill="#0d0b8c" stroke="#4a4030" stroke-width="0.4" />
<rect x="39.7" y="344.06" width="0.7" height="1.92" fill="#111" />
<rect x="41" y="344.41" width="1.2" height="1.2" fill="#222" />
<rect x="19.1" y="346.17" width="16.5" height="2.31" fill="#0d0b8c" stroke="#4a4030" stroke-width="0.4" />
<rect x="34.9" y="346.37" width="0.7" height="1.92" fill="#111" />
<rect x="36.2" y="346.72" width="1.2" height="1.2" fill="#222" />
<rect x="11.5" y="346.62" width="1.4" height="1.4" fill="#333" />
<circle cx="93.2" cy="212.8" r="1.15" fill="#e8201a"/>
<circle cx="73.3" cy="215" r="1.15" fill="#e8201a"/>
<circle cx="44.8" cy="224.5" r="1.15" fill="#e8201a"/>
<circle cx="93.2" cy="224.5" r="1.15" fill="#e8201a"/>
<circle cx="32.4" cy="226.7" r="1.15" fill="#e8201a"/>
<circle cx="107.7" cy="210.7" r="1.15" fill="#e8201a"/>
<circle cx="120.2" cy="208" r="1.15" fill="#e8201a"/>
<circle cx="155.3" cy="205.8" r="1.15" fill="#e8201a"/>
<circle cx="150.2" cy="224.2" r="1.15" fill="#e8201a"/>
<circle cx="198.4" cy="200.5" r="1.15" fill="#e8201a"/>
<circle cx="201.7" cy="198.8" r="1.15" fill="#e8201a"/>
<circle cx="163.9" cy="266.3" r="1.15" fill="#e8201a"/>
<circle cx="151.7" cy="272.7" r="1.15" fill="#e8201a"/>
<circle cx="148.7" cy="275.5" r="1.15" fill="#e8201a"/>
<circle cx="121.9" cy="275.5" r="1.15" fill="#e8201a"/>
<circle cx="181.4" cy="258.9" r="1.15" fill="#e8201a"/>
<circle cx="84" cy="315.1" r="1.15" fill="#e8201a"/>
<circle cx="77.4" cy="321.2" r="1.15" fill="#e8201a"/>
<circle cx="45.4" cy="328.6" r="1.15" fill="#e8201a"/>
<circle cx="42.5" cy="335.6" r="1.15" fill="#e8201a"/>
<circle cx="45.9" cy="342.8" r="1.15" fill="#e8201a"/>
<circle cx="51.1" cy="344.9" r="1.15" fill="#e8201a"/>
<circle cx="41.5" cy="347.2" r="1.15" fill="#e8201a"/>
<rect x="6.4" y="193.3" width="326.8" height="157.2" fill="none" stroke="#8c8c8c" stroke-width="0.7"/>
<line x1="18.9" y1="350.5" x2="18.9" y2="352.1" stroke="#666" stroke-width="0.5" />
<text x="18.9" y="356.2" font-size="4.6" text-anchor="middle" fill="#333" font-weight="normal" stroke="#333" stroke-width="0.09"  transform="rotate(0.15 18.9 356.2)">0</text>
<line x1="40.5" y1="350.5" x2="40.5" y2="352.1" stroke="#666" stroke-width="0.5" />
<text x="40.5" y="356.2" font-size="4.6" text-anchor="middle" fill="#333" font-weight="normal" stroke="#333" stroke-width="0.09"  transform="rotate(0.15 40.5 356.2)">8</text>
<line x1="62.1" y1="350.5" x2="62.1" y2="352.1" stroke="#666" stroke-width="0.5" />
<text x="62.1" y="356.2" font-size="4.6" text-anchor="middle" fill="#333" font-weight="normal" stroke="#333" stroke-width="0.09"  transform="rotate(0.15 62.1 356.2)">16</text>
<line x1="83.7" y1="350.5" x2="83.7" y2="352.1" stroke="#666" stroke-width="0.5" />
<text x="83.7" y="356.2" font-size="4.6" text-anchor="middle" fill="#333" font-weight="normal" stroke="#333" stroke-width="0.09"  transform="rotate(0.15 83.7 356.2)">24</text>
<line x1="105.3" y1="350.5" x2="105.3" y2="352.1" stroke="#666" stroke-width="0.5" />
<text x="105.3" y="356.2" font-size="4.6" text-anchor="middle" fill="#333" font-weight="normal" stroke="#333" stroke-width="0.09"  transform="rotate(0.15 105.3 356.2)">32</text>
<line x1="126.9" y1="350.5" x2="126.9" y2="352.1" stroke="#666" stroke-width="0.5" />
<text x="126.9" y="356.2" font-size="4.6" text-anchor="middle" fill="#333" font-weight="normal" stroke="#333" stroke-width="0.09"  transform="rotate(0.15 126.9 356.2)">40</text>
<line x1="148.5" y1="350.5" x2="148.5" y2="352.1" stroke="#666" stroke-width="0.5" />
<text x="148.5" y="356.2" font-size="4.6" text-anchor="middle" fill="#333" font-weight="normal" stroke="#333" stroke-width="0.09"  transform="rotate(0.15 148.5 356.2)">48</text>
<line x1="170.1" y1="350.5" x2="170.1" y2="352.1" stroke="#666" stroke-width="0.5" />
<text x="170.1" y="356.2" font-size="4.6" text-anchor="middle" fill="#333" font-weight="normal" stroke="#333" stroke-width="0.09"  transform="rotate(0.15 170.1 356.2)">56</text>
<line x1="191.7" y1="350.5" x2="191.7" y2="352.1" stroke="#666" stroke-width="0.5" />
<text x="191.7" y="356.2" font-size="4.6" text-anchor="middle" fill="#333" font-weight="normal" stroke="#333" stroke-width="0.09"  transform="rotate(0.15 191.7 356.2)">64</text>
<line x1="213.3" y1="350.5" x2="213.3" y2="352.1" stroke="#666" stroke-width="0.5" />
<text x="213.3" y="356.2" font-size="4.6" text-anchor="middle" fill="#333" font-weight="normal" stroke="#333" stroke-width="0.09"  transform="rotate(0.15 213.3 356.2)">72</text>
<line x1="234.9" y1="350.5" x2="234.9" y2="352.1" stroke="#666" stroke-width="0.5" />
<text x="234.9" y="356.2" font-size="4.6" text-anchor="middle" fill="#333" font-weight="normal" stroke="#333" stroke-width="0.09"  transform="rotate(0.15 234.9 356.2)">80</text>
<line x1="256.5" y1="350.5" x2="256.5" y2="352.1" stroke="#666" stroke-width="0.5" />
<text x="256.5" y="356.2" font-size="4.6" text-anchor="middle" fill="#333" font-weight="normal" stroke="#333" stroke-width="0.09"  transform="rotate(0.15 256.5 356.2)">88</text>
<line x1="278.1" y1="350.5" x2="278.1" y2="352.1" stroke="#666" stroke-width="0.5" />
<text x="278.1" y="356.2" font-size="4.6" text-anchor="middle" fill="#333" font-weight="normal" stroke="#333" stroke-width="0.09"  transform="rotate(0.15 278.1 356.2)">96</text>
<line x1="299.7" y1="350.5" x2="299.7" y2="352.1" stroke="#666" stroke-width="0.5" />
<text x="299.7" y="356.2" font-size="4.6" text-anchor="middle" fill="#333" font-weight="normal" stroke="#333" stroke-width="0.09"  transform="rotate(0.15 299.7 356.2)">104</text>
<line x1="321.3" y1="350.5" x2="321.3" y2="352.1" stroke="#666" stroke-width="0.5" />
<text x="321.3" y="356.2" font-size="4.6" text-anchor="middle" fill="#333" font-weight="normal" stroke="#333" stroke-width="0.09"  transform="rotate(0.15 321.3 356.2)">112</text>
<text x="170" y="363.5" font-size="5.0" text-anchor="middle" fill="#383838" font-weight="normal" stroke="#383838" stroke-width="0.09"  transform="rotate(0.15 170 363.5)">Duration of Treatment(weeks)</text>
<text x="3.6" y="271.8" font-size="4.9" text-anchor="middle" fill="#333" font-weight="normal" stroke="#333" stroke-width="0.09" transform="rotate(-89.5 3.6 271.8)" dominant-baseline="middle">Subjects</text>
<rect x="242.2" y="292.5" width="2" height="2" fill="#328a1f" />
<text x="247.8" y="294.9" font-size="4.0" text-anchor="start" fill="#383838" font-weight="normal" stroke="#383838" stroke-width="0.09"  transform="rotate(0.15 247.8 294.9)">KN026 20 mg/kg Q2W + KN046 3 mg/kg Q2W</text>
<rect x="242.2" y="296.53" width="2" height="2" fill="#eda32e" />
<text x="247.8" y="298.93" font-size="4.0" text-anchor="start" fill="#383838" font-weight="normal" stroke="#383838" stroke-width="0.09"  transform="rotate(0.15 247.8 298.93)">KN026 30 mg/kg Q3W + KN046 5 mg/kg Q3W</text>
<rect x="242.2" y="300.56" width="2" height="2" fill="#0d0b8c" />
<text x="247.8" y="302.96" font-size="4.0" text-anchor="start" fill="#383838" font-weight="normal" stroke="#383838" stroke-width="0.09"  transform="rotate(0.15 247.8 302.96)">KN026 20 mg/kg Q2W + KN046 5 mg/kg Q2W</text>
<circle cx="243.2" cy="305.59" r="1.2" fill="#f6c0c0" stroke="#e8201a" stroke-width="0.7"/>
<text x="247.8" y="306.99" font-size="4.0" text-anchor="start" fill="#383838" font-weight="normal" stroke="#383838" stroke-width="0.09"  transform="rotate(0.15 247.8 306.99)">Complete Response(CR)</text>
<path d="M243.2 308.22 L244.6 310.72 L241.8 310.72 Z" fill="#e8201a"/>
<text x="247.8" y="311.02" font-size="4.0" text-anchor="start" fill="#383838" font-weight="normal" stroke="#383838" stroke-width="0.09"  transform="rotate(0.15 247.8 311.02)">Partial Response(PR)</text>
<circle cx="243.2" cy="313.65" r="1.2" fill="#e8201a"/>
<text x="247.8" y="315.05" font-size="4.0" text-anchor="start" fill="#383838" font-weight="normal" stroke="#383838" stroke-width="0.09"  transform="rotate(0.15 247.8 315.05)">Stable Disease(SD)</text>
<circle cx="243.2" cy="317.68" r="1.15" fill="#f2a8a8" stroke="#e8201a" stroke-width="0.55"/>
<text x="247.8" y="319.08" font-size="4.0" text-anchor="start" fill="#383838" font-weight="normal" stroke="#383838" stroke-width="0.09"  transform="rotate(0.15 247.8 319.08)">Progressive Disease(PD)</text>
<rect x="242.3" y="321.41" width="1.8" height="0.6" fill="#222" />
<text x="247.8" y="323.11" font-size="4.0" text-anchor="start" fill="#383838" font-weight="normal" stroke="#383838" stroke-width="0.09"  transform="rotate(0.15 247.8 323.11)">Treatment Discontinuation</text>
<path d="M242.2 325.74 L244.2 325.14 L244.2 326.34 Z" fill="#222"/>
<text x="247.8" y="327.14" font-size="4.0" text-anchor="start" fill="#383838" font-weight="normal" stroke="#383838" stroke-width="0.09"  transform="rotate(0.15 247.8 327.14)">Treatment Ongoing</text>
<rect x="242.2" y="328.77" width="2" height="2" fill="#e8201a" />
<text x="247.8" y="331.17" font-size="4.0" text-anchor="start" fill="#383838" font-weight="normal" stroke="#383838" stroke-width="0.09"  transform="rotate(0.15 247.8 331.17)">Response(CR/PR)</text>
<text x="243.2" y="335" font-size="3.5" text-anchor="middle" fill="#555" font-weight="normal" stroke="#555" stroke-width="0.09"  transform="rotate(0.15 243.2 335)">+</text>
<text x="247.8" y="335.2" font-size="4.0" text-anchor="start" fill="#383838" font-weight="normal" stroke="#383838" stroke-width="0.09"  transform="rotate(0.15 247.8 335.2)">New Lesions</text>
<rect x="242.4" y="337.03" width="1.6" height="1.6" fill="#555" />
<text x="247.8" y="339.23" font-size="4.0" text-anchor="start" fill="#383838" font-weight="normal" stroke="#383838" stroke-width="0.09"  transform="rotate(0.15 247.8 339.23)">1st line</text>
<text x="349.6" y="184.9" font-size="13.5" text-anchor="start" fill="#000" font-weight="bold" >d</text>
<line x1="372.2" y1="192.5" x2="372.2" y2="350.1" stroke="#e4e4e4" stroke-width="0.5" />
<line x1="393.29" y1="192.5" x2="393.29" y2="350.1" stroke="#e4e4e4" stroke-width="0.5" />
<line x1="414.38" y1="192.5" x2="414.38" y2="350.1" stroke="#e4e4e4" stroke-width="0.5" />
<line x1="435.46" y1="192.5" x2="435.46" y2="350.1" stroke="#e4e4e4" stroke-width="0.5" />
<line x1="456.55" y1="192.5" x2="456.55" y2="350.1" stroke="#e4e4e4" stroke-width="0.5" />
<line x1="477.64" y1="192.5" x2="477.64" y2="350.1" stroke="#e4e4e4" stroke-width="0.5" />
<line x1="498.73" y1="192.5" x2="498.73" y2="350.1" stroke="#e4e4e4" stroke-width="0.5" />
<line x1="519.82" y1="192.5" x2="519.82" y2="350.1" stroke="#e4e4e4" stroke-width="0.5" />
<line x1="540.9" y1="192.5" x2="540.9" y2="350.1" stroke="#e4e4e4" stroke-width="0.5" />
<line x1="561.99" y1="192.5" x2="561.99" y2="350.1" stroke="#e4e4e4" stroke-width="0.5" />
<line x1="583.08" y1="192.5" x2="583.08" y2="350.1" stroke="#e4e4e4" stroke-width="0.5" />
<line x1="604.17" y1="192.5" x2="604.17" y2="350.1" stroke="#e4e4e4" stroke-width="0.5" />
<line x1="625.26" y1="192.5" x2="625.26" y2="350.1" stroke="#e4e4e4" stroke-width="0.5" />
<line x1="646.34" y1="192.5" x2="646.34" y2="350.1" stroke="#e4e4e4" stroke-width="0.5" />
<line x1="667.43" y1="192.5" x2="667.43" y2="350.1" stroke="#e4e4e4" stroke-width="0.5" />
<rect x="372.4" y="194.2" width="115.9" height="3.4" fill="#328a1f" stroke="#7a6a50" stroke-width="0.3" />
<rect x="487.3" y="194.4" width="1" height="3" fill="#111" />
<rect x="489.1" y="195.3" width="1.2" height="1.2" fill="#333" />
<path d="M394.68 194.6 L395.98 196.94 L393.38 196.94 Z" fill="#e8201a"/>
<path d="M417.76 194.6 L419.06 196.94 L416.46 196.94 Z" fill="#e8201a"/>
<path d="M439.92 194.6 L441.22 196.94 L438.62 196.94 Z" fill="#e8201a"/>
<path d="M461.55 194.6 L462.85 196.94 L460.25 196.94 Z" fill="#e8201a"/>
<path d="M483.97 194.6 L485.27 196.94 L482.67 196.94 Z" fill="#e8201a"/>
<text x="364.2" y="197.3" font-size="4.0" text-anchor="middle" fill="#444" font-weight="normal"  transform="rotate(0.15 364.2 197.3)">R</text>
<rect x="370.3" y="195.3" width="1.6" height="1.2" fill="#e8201a" />
<rect x="372.4" y="198.51" width="65.9" height="3.4" fill="#328a1f" stroke="#7a6a50" stroke-width="0.3" />
<rect x="437.3" y="198.71" width="1" height="3" fill="#111" />
<rect x="439.1" y="199.61" width="1.2" height="1.2" fill="#333" />
<path d="M393.72 198.91 L395.02 201.25 L392.42 201.25 Z" fill="#e8201a"/>
<path d="M416.44 198.91 L417.74 201.25 L415.14 201.25 Z" fill="#e8201a"/>
<text x="364.2" y="201.61" font-size="4.0" text-anchor="middle" fill="#444" font-weight="normal"  transform="rotate(0.15 364.2 201.61)">D</text>
<rect x="372.4" y="202.82" width="55.1" height="3.4" fill="#328a1f" stroke="#7a6a50" stroke-width="0.3" />
<rect x="426.5" y="203.02" width="1" height="3" fill="#111" />
<rect x="428.3" y="203.92" width="1.2" height="1.2" fill="#333" />
<path d="M394.64 203.22 L395.94 205.56 L393.34 205.56 Z" fill="#e8201a"/>
<path d="M416.61 203.22 L417.91 205.56 L415.31 205.56 Z" fill="#e8201a"/>
<text x="364.2" y="205.92" font-size="4.0" text-anchor="middle" fill="#444" font-weight="normal"  transform="rotate(0.15 364.2 205.92)">C</text>
<rect x="372.4" y="207.13" width="47.7" height="3.4" fill="#328a1f" stroke="#7a6a50" stroke-width="0.3" />
<rect x="419.1" y="207.33" width="1" height="3" fill="#111" />
<rect x="420.9" y="208.23" width="1.2" height="1.2" fill="#333" />
<path d="M395.44 207.53 L396.74 209.87 L394.14 209.87 Z" fill="#e8201a"/>
<path d="M417.5 207.53 L418.8 209.87 L416.2 209.87 Z" fill="#e8201a"/>
<text x="364.2" y="210.23" font-size="4.0" text-anchor="middle" fill="#444" font-weight="normal"  transform="rotate(0.15 364.2 210.23)">G</text>
<rect x="370.3" y="208.23" width="1.6" height="1.2" fill="#e8201a" />
<rect x="372.4" y="211.44" width="11.1" height="3.4" fill="#328a1f" stroke="#7a6a50" stroke-width="0.3" />
<rect x="382.5" y="211.64" width="1" height="3" fill="#111" />
<rect x="384.3" y="212.54" width="1.2" height="1.2" fill="#333" />
<text x="364.2" y="214.54" font-size="4.0" text-anchor="middle" fill="#444" font-weight="normal"  transform="rotate(0.15 364.2 214.54)">C</text>
<rect x="370.3" y="212.54" width="1.6" height="1.2" fill="#e8201a" />
<rect x="372.4" y="215.75" width="129" height="3.4" fill="#1200ff" stroke="#7a6a50" stroke-width="0.3" />
<rect x="500.4" y="215.95" width="1" height="3" fill="#111" />
<rect x="502.2" y="216.85" width="1.2" height="1.2" fill="#333" />
<path d="M392.86 216.15 L394.16 218.49 L391.56 218.49 Z" fill="#e8201a"/>
<path d="M415.41 216.15 L416.71 218.49 L414.11 218.49 Z" fill="#e8201a"/>
<path d="M437.28 216.15 L438.58 218.49 L435.98 218.49 Z" fill="#e8201a"/>
<path d="M457.7 216.15 L459 218.49 L456.4 218.49 Z" fill="#e8201a"/>
<path d="M479.34 216.15 L480.64 218.49 L478.04 218.49 Z" fill="#e8201a"/>
<text x="364.2" y="218.85" font-size="4.0" text-anchor="middle" fill="#444" font-weight="normal"  transform="rotate(0.15 364.2 218.85)">C</text>
<rect x="370.3" y="216.85" width="1.6" height="1.2" fill="#e8201a" />
<rect x="372.4" y="220.06" width="16" height="3.4" fill="#1200ff" stroke="#7a6a50" stroke-width="0.3" />
<rect x="387.4" y="220.26" width="1" height="3" fill="#111" />
<rect x="389.2" y="221.16" width="1.2" height="1.2" fill="#333" />
<text x="364.2" y="223.16" font-size="4.0" text-anchor="middle" fill="#444" font-weight="normal"  transform="rotate(0.15 364.2 223.16)">G</text>
<rect x="370.3" y="221.16" width="1.6" height="1.2" fill="#e8201a" />
<rect x="372.4" y="224.37" width="301.1" height="3.4" fill="#eda32e" stroke="#7a6a50" stroke-width="0.3" />
<rect x="672.5" y="224.57" width="1" height="3" fill="#111" />
<rect x="674.3" y="225.47" width="1.2" height="1.2" fill="#333" />
<path d="M387.24 224.77 L388.54 227.11 L385.94 227.11 Z" fill="#e8201a"/>
<path d="M403.55 224.77 L404.85 227.11 L402.25 227.11 Z" fill="#e8201a"/>
<path d="M420.34 224.77 L421.64 227.11 L419.04 227.11 Z" fill="#e8201a"/>
<path d="M434.74 224.77 L436.04 227.11 L433.44 227.11 Z" fill="#e8201a"/>
<path d="M450.26 224.77 L451.56 227.11 L448.96 227.11 Z" fill="#e8201a"/>
<path d="M467.73 224.77 L469.03 227.11 L466.43 227.11 Z" fill="#e8201a"/>
<path d="M483.35 224.77 L484.65 227.11 L482.05 227.11 Z" fill="#e8201a"/>
<path d="M498.62 224.77 L499.92 227.11 L497.32 227.11 Z" fill="#e8201a"/>
<path d="M546.83 224.77 L548.13 227.11 L545.53 227.11 Z" fill="#e8201a"/>
<path d="M561.06 224.77 L562.36 227.11 L559.76 227.11 Z" fill="#e8201a"/>
<path d="M578.64 224.77 L579.94 227.11 L577.34 227.11 Z" fill="#e8201a"/>
<path d="M593.79 224.77 L595.09 227.11 L592.49 227.11 Z" fill="#e8201a"/>
<path d="M609.48 224.77 L610.78 227.11 L608.18 227.11 Z" fill="#e8201a"/>
<text x="364.2" y="227.47" font-size="4.0" text-anchor="middle" fill="#444" font-weight="normal"  transform="rotate(0.15 364.2 227.47)">R</text>
<rect x="370.3" y="225.47" width="1.6" height="1.2" fill="#e8201a" />
<rect x="372.4" y="228.68" width="292.2" height="3.4" fill="#eda32e" stroke="#7a6a50" stroke-width="0.3" />
<rect x="663.6" y="228.88" width="1" height="3" fill="#111" />
<rect x="665.4" y="229.78" width="1.2" height="1.2" fill="#333" />
<path d="M388.35 229.08 L389.65 231.42 L387.05 231.42 Z" fill="#e8201a"/>
<path d="M403.19 229.08 L404.49 231.42 L401.89 231.42 Z" fill="#e8201a"/>
<path d="M419.46 229.08 L420.76 231.42 L418.16 231.42 Z" fill="#e8201a"/>
<path d="M435.5 229.08 L436.8 231.42 L434.2 231.42 Z" fill="#e8201a"/>
<path d="M451.58 229.08 L452.88 231.42 L450.28 231.42 Z" fill="#e8201a"/>
<path d="M467.41 229.08 L468.71 231.42 L466.11 231.42 Z" fill="#e8201a"/>
<path d="M482.73 229.08 L484.03 231.42 L481.43 231.42 Z" fill="#e8201a"/>
<path d="M498.97 229.08 L500.27 231.42 L497.67 231.42 Z" fill="#e8201a"/>
<path d="M530.63 229.08 L531.93 231.42 L529.33 231.42 Z" fill="#e8201a"/>
<path d="M546.65 229.08 L547.95 231.42 L545.35 231.42 Z" fill="#e8201a"/>
<path d="M577.67 229.08 L578.97 231.42 L576.37 231.42 Z" fill="#e8201a"/>
<path d="M592.74 229.08 L594.04 231.42 L591.44 231.42 Z" fill="#e8201a"/>
<path d="M608.76 229.08 L610.06 231.42 L607.46 231.42 Z" fill="#e8201a"/>
<path d="M624.75 229.08 L626.05 231.42 L623.45 231.42 Z" fill="#e8201a"/>
<path d="M640.28 229.08 L641.58 231.42 L638.98 231.42 Z" fill="#e8201a"/>
<path d="M657.78 229.08 L659.08 231.42 L656.48 231.42 Z" fill="#e8201a"/>
<text x="364.2" y="231.78" font-size="4.0" text-anchor="middle" fill="#444" font-weight="normal"  transform="rotate(0.15 364.2 231.78)">C</text>
<rect x="370.3" y="229.78" width="1.6" height="1.2" fill="#e8201a" />
<rect x="372.4" y="232.99" width="255.1" height="3.4" fill="#eda32e" stroke="#7a6a50" stroke-width="0.3" />
<rect x="626.5" y="233.19" width="1" height="3" fill="#111" />
<rect x="628.3" y="234.09" width="1.2" height="1.2" fill="#333" />
<path d="M388.39 233.39 L389.69 235.73 L387.09 235.73 Z" fill="#e8201a"/>
<path d="M404.22 233.39 L405.52 235.73 L402.92 235.73 Z" fill="#e8201a"/>
<path d="M420.53 233.39 L421.83 235.73 L419.23 235.73 Z" fill="#e8201a"/>
<path d="M436.46 233.39 L437.76 235.73 L435.16 235.73 Z" fill="#e8201a"/>
<path d="M450.85 233.39 L452.15 235.73 L449.55 235.73 Z" fill="#e8201a"/>
<path d="M468 233.39 L469.3 235.73 L466.7 235.73 Z" fill="#e8201a"/>
<path d="M483.74 233.39 L485.04 235.73 L482.44 235.73 Z" fill="#e8201a"/>
<path d="M497.85 233.39 L499.15 235.73 L496.55 235.73 Z" fill="#e8201a"/>
<path d="M531.21 233.39 L532.51 235.73 L529.91 235.73 Z" fill="#e8201a"/>
<path d="M577.57 233.39 L578.87 235.73 L576.27 235.73 Z" fill="#e8201a"/>
<path d="M593.37 233.39 L594.67 235.73 L592.07 235.73 Z" fill="#e8201a"/>
<path d="M610.33 233.39 L611.63 235.73 L609.03 235.73 Z" fill="#e8201a"/>
<text x="364.2" y="236.09" font-size="4.0" text-anchor="middle" fill="#444" font-weight="normal"  transform="rotate(0.15 364.2 236.09)">C</text>
<rect x="372.4" y="237.3" width="250.9" height="3.4" fill="#eda32e" stroke="#7a6a50" stroke-width="0.3" />
<rect x="622.3" y="237.5" width="1" height="3" fill="#111" />
<rect x="624.1" y="238.4" width="1.2" height="1.2" fill="#333" />
<path d="M388.08 237.7 L389.38 240.04 L386.78 240.04 Z" fill="#e8201a"/>
<path d="M402.79 237.7 L404.09 240.04 L401.49 240.04 Z" fill="#e8201a"/>
<path d="M418.65 237.7 L419.95 240.04 L417.35 240.04 Z" fill="#e8201a"/>
<path d="M436.42 237.7 L437.72 240.04 L435.12 240.04 Z" fill="#e8201a"/>
<path d="M450.72 237.7 L452.02 240.04 L449.42 240.04 Z" fill="#e8201a"/>
<path d="M467.91 237.7 L469.21 240.04 L466.61 240.04 Z" fill="#e8201a"/>
<path d="M483.52 237.7 L484.82 240.04 L482.22 240.04 Z" fill="#e8201a"/>
<path d="M498.5 237.7 L499.8 240.04 L497.2 240.04 Z" fill="#e8201a"/>
<path d="M514.72 237.7 L516.02 240.04 L513.42 240.04 Z" fill="#e8201a"/>
<path d="M545.36 237.7 L546.66 240.04 L544.06 240.04 Z" fill="#e8201a"/>
<path d="M561.28 237.7 L562.58 240.04 L559.98 240.04 Z" fill="#e8201a"/>
<path d="M592.86 237.7 L594.16 240.04 L591.56 240.04 Z" fill="#e8201a"/>
<text x="364.2" y="240.4" font-size="4.0" text-anchor="middle" fill="#444" font-weight="normal"  transform="rotate(0.15 364.2 240.4)">C</text>
<rect x="372.4" y="241.61" width="192.6" height="3.4" fill="#eda32e" stroke="#7a6a50" stroke-width="0.3" />
<rect x="564" y="241.81" width="1" height="3" fill="#111" />
<rect x="565.8" y="242.71" width="1.2" height="1.2" fill="#333" />
<path d="M387.38 242.01 L388.68 244.35 L386.08 244.35 Z" fill="#e8201a"/>
<path d="M404.79 242.01 L406.09 244.35 L403.49 244.35 Z" fill="#e8201a"/>
<path d="M419.72 242.01 L421.02 244.35 L418.42 244.35 Z" fill="#e8201a"/>
<path d="M435.81 242.01 L437.11 244.35 L434.51 244.35 Z" fill="#e8201a"/>
<path d="M452.08 242.01 L453.38 244.35 L450.78 244.35 Z" fill="#e8201a"/>
<path d="M467.64 242.01 L468.94 244.35 L466.34 244.35 Z" fill="#e8201a"/>
<path d="M483.36 242.01 L484.66 244.35 L482.06 244.35 Z" fill="#e8201a"/>
<path d="M498.48 242.01 L499.78 244.35 L497.18 244.35 Z" fill="#e8201a"/>
<path d="M529.38 242.01 L530.68 244.35 L528.08 244.35 Z" fill="#e8201a"/>
<path d="M547.04 242.01 L548.34 244.35 L545.74 244.35 Z" fill="#e8201a"/>
<path d="M561.12 242.01 L562.42 244.35 L559.82 244.35 Z" fill="#e8201a"/>
<text x="364.2" y="244.71" font-size="4.0" text-anchor="middle" fill="#444" font-weight="normal"  transform="rotate(0.15 364.2 244.71)">C</text>
<rect x="370.3" y="242.71" width="1.6" height="1.2" fill="#e8201a" />
<text x="368.3" y="244.51" font-size="3.2" text-anchor="middle" fill="#555" font-weight="normal" stroke="#555" stroke-width="0.09"  transform="rotate(0.15 368.3 244.51)">+</text>
<rect x="372.4" y="245.92" width="189.4" height="3.4" fill="#eda32e" stroke="#7a6a50" stroke-width="0.3" />
<rect x="560.8" y="246.12" width="1" height="3" fill="#111" />
<rect x="562.6" y="247.02" width="1.2" height="1.2" fill="#333" />
<path d="M388.63 246.32 L389.93 248.66 L387.33 248.66 Z" fill="#e8201a"/>
<path d="M404.14 246.32 L405.44 248.66 L402.84 248.66 Z" fill="#e8201a"/>
<path d="M419.21 246.32 L420.51 248.66 L417.91 248.66 Z" fill="#e8201a"/>
<path d="M435.12 246.32 L436.42 248.66 L433.82 248.66 Z" fill="#e8201a"/>
<path d="M450.78 246.32 L452.08 248.66 L449.48 248.66 Z" fill="#e8201a"/>
<path d="M466.78 246.32 L468.08 248.66 L465.48 248.66 Z" fill="#e8201a"/>
<path d="M483.82 246.32 L485.12 248.66 L482.52 248.66 Z" fill="#e8201a"/>
<path d="M497.78 246.32 L499.08 248.66 L496.48 248.66 Z" fill="#e8201a"/>
<path d="M515.09 246.32 L516.39 248.66 L513.79 248.66 Z" fill="#e8201a"/>
<path d="M530.93 246.32 L532.23 248.66 L529.63 248.66 Z" fill="#e8201a"/>
<text x="364.2" y="249.02" font-size="4.0" text-anchor="middle" fill="#444" font-weight="normal"  transform="rotate(0.15 364.2 249.02)">C</text>
<text x="368.3" y="248.82" font-size="3.2" text-anchor="middle" fill="#555" font-weight="normal" stroke="#555" stroke-width="0.09"  transform="rotate(0.15 368.3 248.82)">+</text>
<rect x="372.4" y="250.23" width="158.2" height="3.4" fill="#eda32e" stroke="#7a6a50" stroke-width="0.3" />
<rect x="529.6" y="250.43" width="1" height="3" fill="#111" />
<rect x="531.4" y="251.33" width="1.2" height="1.2" fill="#333" />
<path d="M388.06 250.63 L389.36 252.97 L386.76 252.97 Z" fill="#e8201a"/>
<path d="M402.98 250.63 L404.28 252.97 L401.68 252.97 Z" fill="#e8201a"/>
<path d="M419.58 250.63 L420.88 252.97 L418.28 252.97 Z" fill="#e8201a"/>
<path d="M434.51 250.63 L435.81 252.97 L433.21 252.97 Z" fill="#e8201a"/>
<path d="M451.42 250.63 L452.72 252.97 L450.12 252.97 Z" fill="#e8201a"/>
<path d="M467.55 250.63 L468.85 252.97 L466.25 252.97 Z" fill="#e8201a"/>
<path d="M483.6 250.63 L484.9 252.97 L482.3 252.97 Z" fill="#e8201a"/>
<path d="M498.89 250.63 L500.19 252.97 L497.59 252.97 Z" fill="#e8201a"/>
<text x="364.2" y="253.33" font-size="4.0" text-anchor="middle" fill="#444" font-weight="normal"  transform="rotate(0.15 364.2 253.33)">C</text>
<rect x="370.3" y="251.33" width="1.6" height="1.2" fill="#e8201a" />
<rect x="372.4" y="254.54" width="134.9" height="3.4" fill="#eda32e" stroke="#7a6a50" stroke-width="0.3" />
<rect x="506.3" y="254.74" width="1" height="3" fill="#111" />
<rect x="508.1" y="255.64" width="1.2" height="1.2" fill="#333" />
<path d="M387.08 254.94 L388.38 257.28 L385.78 257.28 Z" fill="#e8201a"/>
<path d="M403.51 254.94 L404.81 257.28 L402.21 257.28 Z" fill="#e8201a"/>
<path d="M418.8 254.94 L420.1 257.28 L417.5 257.28 Z" fill="#e8201a"/>
<path d="M435.88 254.94 L437.18 257.28 L434.58 257.28 Z" fill="#e8201a"/>
<path d="M451.97 254.94 L453.27 257.28 L450.67 257.28 Z" fill="#e8201a"/>
<path d="M468.08 254.94 L469.38 257.28 L466.78 257.28 Z" fill="#e8201a"/>
<path d="M483.11 254.94 L484.41 257.28 L481.81 257.28 Z" fill="#e8201a"/>
<path d="M499.69 254.94 L500.99 257.28 L498.39 257.28 Z" fill="#e8201a"/>
<text x="364.2" y="257.64" font-size="4.0" text-anchor="middle" fill="#444" font-weight="normal"  transform="rotate(0.15 364.2 257.64)">L</text>
<text x="368.3" y="257.44" font-size="3.2" text-anchor="middle" fill="#555" font-weight="normal" stroke="#555" stroke-width="0.09"  transform="rotate(0.15 368.3 257.44)">+</text>
<rect x="372.4" y="258.85" width="95.4" height="3.4" fill="#eda32e" stroke="#7a6a50" stroke-width="0.3" />
<rect x="466.8" y="259.05" width="1" height="3" fill="#111" />
<rect x="468.6" y="259.95" width="1.2" height="1.2" fill="#333" />
<path d="M388.68 259.25 L389.98 261.59 L387.38 261.59 Z" fill="#e8201a"/>
<path d="M404.76 259.25 L406.06 261.59 L403.46 261.59 Z" fill="#e8201a"/>
<path d="M419.08 259.25 L420.38 261.59 L417.78 261.59 Z" fill="#e8201a"/>
<path d="M434.76 259.25 L436.06 261.59 L433.46 261.59 Z" fill="#e8201a"/>
<path d="M452.21 259.25 L453.51 261.59 L450.91 261.59 Z" fill="#e8201a"/>
<text x="364.2" y="261.95" font-size="4.0" text-anchor="middle" fill="#444" font-weight="normal"  transform="rotate(0.15 364.2 261.95)">C</text>
<rect x="370.3" y="259.95" width="1.6" height="1.2" fill="#e8201a" />
<rect x="372.4" y="263.16" width="94.8" height="3.4" fill="#eda32e" stroke="#7a6a50" stroke-width="0.3" />
<rect x="466.2" y="263.36" width="1" height="3" fill="#111" />
<rect x="468" y="264.26" width="1.2" height="1.2" fill="#333" />
<path d="M388.15 263.56 L389.45 265.9 L386.85 265.9 Z" fill="#e8201a"/>
<path d="M403 263.56 L404.3 265.9 L401.7 265.9 Z" fill="#e8201a"/>
<path d="M419.28 263.56 L420.58 265.9 L417.98 265.9 Z" fill="#e8201a"/>
<path d="M434.61 263.56 L435.91 265.9 L433.31 265.9 Z" fill="#e8201a"/>
<path d="M452.18 263.56 L453.48 265.9 L450.88 265.9 Z" fill="#e8201a"/>
<text x="364.2" y="266.26" font-size="4.0" text-anchor="middle" fill="#444" font-weight="normal"  transform="rotate(0.15 364.2 266.26)">C</text>
<rect x="372.4" y="267.47" width="76" height="3.4" fill="#eda32e" stroke="#7a6a50" stroke-width="0.3" />
<rect x="447.4" y="267.67" width="1" height="3" fill="#111" />
<rect x="449.2" y="268.57" width="1.2" height="1.2" fill="#333" />
<path d="M388.32 267.87 L389.62 270.21 L387.02 270.21 Z" fill="#e8201a"/>
<path d="M403.56 267.87 L404.86 270.21 L402.26 270.21 Z" fill="#e8201a"/>
<path d="M419.23 267.87 L420.53 270.21 L417.93 270.21 Z" fill="#e8201a"/>
<path d="M435.31 267.87 L436.61 270.21 L434.01 270.21 Z" fill="#e8201a"/>
<text x="364.2" y="270.57" font-size="4.0" text-anchor="middle" fill="#444" font-weight="normal"  transform="rotate(0.15 364.2 270.57)">P</text>
<rect x="370.3" y="268.57" width="1.6" height="1.2" fill="#e8201a" />
<rect x="372.4" y="271.78" width="71.1" height="3.4" fill="#eda32e" stroke="#7a6a50" stroke-width="0.3" />
<rect x="442.5" y="271.98" width="1" height="3" fill="#111" />
<rect x="444.3" y="272.88" width="1.2" height="1.2" fill="#333" />
<path d="M388.29 272.18 L389.59 274.52 L386.99 274.52 Z" fill="#e8201a"/>
<path d="M404.77 272.18 L406.07 274.52 L403.47 274.52 Z" fill="#e8201a"/>
<path d="M418.86 272.18 L420.16 274.52 L417.56 274.52 Z" fill="#e8201a"/>
<path d="M435.66 272.18 L436.96 274.52 L434.36 274.52 Z" fill="#e8201a"/>
<text x="364.2" y="274.88" font-size="4.0" text-anchor="middle" fill="#444" font-weight="normal"  transform="rotate(0.15 364.2 274.88)">C</text>
<text x="368.3" y="274.68" font-size="3.2" text-anchor="middle" fill="#555" font-weight="normal" stroke="#555" stroke-width="0.09"  transform="rotate(0.15 368.3 274.68)">+</text>
<rect x="372.4" y="276.09" width="70.9" height="3.4" fill="#eda32e" stroke="#7a6a50" stroke-width="0.3" />
<rect x="442.3" y="276.29" width="1" height="3" fill="#111" />
<rect x="444.1" y="277.19" width="1.2" height="1.2" fill="#333" />
<path d="M388.19 276.49 L389.49 278.83 L386.89 278.83 Z" fill="#e8201a"/>
<path d="M403.88 276.49 L405.18 278.83 L402.58 278.83 Z" fill="#e8201a"/>
<path d="M420.42 276.49 L421.72 278.83 L419.12 278.83 Z" fill="#e8201a"/>
<path d="M435.36 276.49 L436.66 278.83 L434.06 278.83 Z" fill="#e8201a"/>
<text x="364.2" y="279.19" font-size="4.0" text-anchor="middle" fill="#444" font-weight="normal"  transform="rotate(0.15 364.2 279.19)">C</text>
<rect x="370.3" y="277.19" width="1.6" height="1.2" fill="#e8201a" />
<rect x="372.4" y="280.4" width="63" height="3.4" fill="#eda32e" stroke="#7a6a50" stroke-width="0.3" />
<rect x="434.4" y="280.6" width="1" height="3" fill="#111" />
<rect x="436.2" y="281.5" width="1.2" height="1.2" fill="#333" />
<path d="M388.41 280.8 L389.71 283.14 L387.11 283.14 Z" fill="#e8201a"/>
<path d="M403.32 280.8 L404.62 283.14 L402.02 283.14 Z" fill="#e8201a"/>
<path d="M419.08 280.8 L420.38 283.14 L417.78 283.14 Z" fill="#e8201a"/>
<text x="364.2" y="283.5" font-size="4.0" text-anchor="middle" fill="#444" font-weight="normal"  transform="rotate(0.15 364.2 283.5)">C</text>
<rect x="372.4" y="284.71" width="56.1" height="3.4" fill="#eda32e" stroke="#7a6a50" stroke-width="0.3" />
<rect x="427.5" y="284.91" width="1" height="3" fill="#111" />
<rect x="429.3" y="285.81" width="1.2" height="1.2" fill="#333" />
<path d="M388.03 285.11 L389.33 287.45 L386.73 287.45 Z" fill="#e8201a"/>
<path d="M403.34 285.11 L404.64 287.45 L402.04 287.45 Z" fill="#e8201a"/>
<path d="M420.19 285.11 L421.49 287.45 L418.89 287.45 Z" fill="#e8201a"/>
<text x="364.2" y="287.81" font-size="4.0" text-anchor="middle" fill="#444" font-weight="normal"  transform="rotate(0.15 364.2 287.81)">C</text>
<rect x="372.4" y="289.02" width="51.7" height="3.4" fill="#eda32e" stroke="#7a6a50" stroke-width="0.3" />
<rect x="423.1" y="289.22" width="1" height="3" fill="#111" />
<rect x="424.9" y="290.12" width="1.2" height="1.2" fill="#333" />
<path d="M389.02 289.42 L390.32 291.76 L387.72 291.76 Z" fill="#e8201a"/>
<path d="M404.3 289.42 L405.6 291.76 L403 291.76 Z" fill="#e8201a"/>
<path d="M419.86 289.42 L421.16 291.76 L418.56 291.76 Z" fill="#e8201a"/>
<text x="364.2" y="292.12" font-size="4.0" text-anchor="middle" fill="#444" font-weight="normal"  transform="rotate(0.15 364.2 292.12)">L</text>
<rect x="370.3" y="290.12" width="1.6" height="1.2" fill="#e8201a" />
<rect x="372.4" y="293.33" width="48.7" height="3.4" fill="#eda32e" stroke="#7a6a50" stroke-width="0.3" />
<rect x="420.1" y="293.53" width="1" height="3" fill="#111" />
<rect x="421.9" y="294.43" width="1.2" height="1.2" fill="#333" />
<path d="M387.51 293.73 L388.81 296.07 L386.21 296.07 Z" fill="#e8201a"/>
<path d="M404.79 293.73 L406.09 296.07 L403.49 296.07 Z" fill="#e8201a"/>
<text x="364.2" y="296.43" font-size="4.0" text-anchor="middle" fill="#444" font-weight="normal"  transform="rotate(0.15 364.2 296.43)">C</text>
<rect x="370.3" y="294.43" width="1.6" height="1.2" fill="#e8201a" />
<rect x="372.4" y="297.64" width="47.9" height="3.4" fill="#eda32e" stroke="#7a6a50" stroke-width="0.3" />
<rect x="419.3" y="297.84" width="1" height="3" fill="#111" />
<rect x="421.1" y="298.74" width="1.2" height="1.2" fill="#333" />
<path d="M387.37 298.04 L388.67 300.38 L386.07 300.38 Z" fill="#e8201a"/>
<path d="M403.1 298.04 L404.4 300.38 L401.8 300.38 Z" fill="#e8201a"/>
<text x="364.2" y="300.74" font-size="4.0" text-anchor="middle" fill="#444" font-weight="normal"  transform="rotate(0.15 364.2 300.74)">L</text>
<rect x="370.3" y="298.74" width="1.6" height="1.2" fill="#e8201a" />
<rect x="372.4" y="301.95" width="45.5" height="3.4" fill="#eda32e" stroke="#7a6a50" stroke-width="0.3" />
<rect x="416.9" y="302.15" width="1" height="3" fill="#111" />
<rect x="418.7" y="303.05" width="1.2" height="1.2" fill="#333" />
<path d="M387.54 302.35 L388.84 304.69 L386.24 304.69 Z" fill="#e8201a"/>
<path d="M403.01 302.35 L404.31 304.69 L401.71 304.69 Z" fill="#e8201a"/>
<text x="364.2" y="305.05" font-size="4.0" text-anchor="middle" fill="#444" font-weight="normal"  transform="rotate(0.15 364.2 305.05)">C</text>
<rect x="370.3" y="303.05" width="1.6" height="1.2" fill="#e8201a" />
<rect x="372.4" y="306.26" width="42.7" height="3.4" fill="#eda32e" stroke="#7a6a50" stroke-width="0.3" />
<rect x="414.1" y="306.46" width="1" height="3" fill="#111" />
<rect x="415.9" y="307.36" width="1.2" height="1.2" fill="#333" />
<path d="M387.94 306.66 L389.24 309 L386.64 309 Z" fill="#e8201a"/>
<path d="M402.8 306.66 L404.1 309 L401.5 309 Z" fill="#e8201a"/>
<text x="364.2" y="309.36" font-size="4.0" text-anchor="middle" fill="#444" font-weight="normal"  transform="rotate(0.15 364.2 309.36)">K</text>
<rect x="370.3" y="307.36" width="1.6" height="1.2" fill="#e8201a" />
<text x="368.3" y="309.16" font-size="3.2" text-anchor="middle" fill="#555" font-weight="normal" stroke="#555" stroke-width="0.09"  transform="rotate(0.15 368.3 309.16)">+</text>
<rect x="372.4" y="310.57" width="40.6" height="3.4" fill="#eda32e" stroke="#7a6a50" stroke-width="0.3" />
<rect x="412" y="310.77" width="1" height="3" fill="#111" />
<rect x="413.8" y="311.67" width="1.2" height="1.2" fill="#333" />
<path d="M389.03 310.97 L390.33 313.31 L387.73 313.31 Z" fill="#e8201a"/>
<path d="M403.4 310.97 L404.7 313.31 L402.1 313.31 Z" fill="#e8201a"/>
<text x="364.2" y="313.67" font-size="4.0" text-anchor="middle" fill="#444" font-weight="normal"  transform="rotate(0.15 364.2 313.67)">C</text>
<rect x="370.3" y="311.67" width="1.6" height="1.2" fill="#e8201a" />
<rect x="372.4" y="314.88" width="31.5" height="3.4" fill="#eda32e" stroke="#7a6a50" stroke-width="0.3" />
<rect x="402.9" y="315.08" width="1" height="3" fill="#111" />
<rect x="404.7" y="315.98" width="1.2" height="1.2" fill="#333" />
<path d="M386.97 315.28 L388.27 317.62 L385.67 317.62 Z" fill="#e8201a"/>
<text x="364.2" y="317.98" font-size="4.0" text-anchor="middle" fill="#444" font-weight="normal"  transform="rotate(0.15 364.2 317.98)">C</text>
<rect x="372.4" y="319.19" width="31.5" height="3.4" fill="#eda32e" stroke="#7a6a50" stroke-width="0.3" />
<rect x="402.9" y="319.39" width="1" height="3" fill="#111" />
<rect x="404.7" y="320.29" width="1.2" height="1.2" fill="#333" />
<path d="M388.2 319.59 L389.5 321.93 L386.9 321.93 Z" fill="#e8201a"/>
<text x="364.2" y="322.29" font-size="4.0" text-anchor="middle" fill="#444" font-weight="normal"  transform="rotate(0.15 364.2 322.29)">G</text>
<rect x="372.4" y="323.5" width="23.3" height="3.4" fill="#eda32e" stroke="#7a6a50" stroke-width="0.3" />
<rect x="394.7" y="323.7" width="1" height="3" fill="#111" />
<rect x="396.5" y="324.6" width="1.2" height="1.2" fill="#333" />
<path d="M388.34 323.9 L389.64 326.24 L387.04 326.24 Z" fill="#e8201a"/>
<text x="364.2" y="326.6" font-size="4.0" text-anchor="middle" fill="#444" font-weight="normal"  transform="rotate(0.15 364.2 326.6)">C</text>
<rect x="372.4" y="327.81" width="16.1" height="3.4" fill="#eda32e" stroke="#7a6a50" stroke-width="0.3" />
<rect x="387.5" y="328.01" width="1" height="3" fill="#111" />
<rect x="389.3" y="328.91" width="1.2" height="1.2" fill="#333" />
<text x="364.2" y="330.91" font-size="4.0" text-anchor="middle" fill="#444" font-weight="normal"  transform="rotate(0.15 364.2 330.91)">D</text>
<rect x="370.3" y="328.91" width="1.6" height="1.2" fill="#e8201a" />
<text x="368.3" y="330.71" font-size="3.2" text-anchor="middle" fill="#555" font-weight="normal" stroke="#555" stroke-width="0.09"  transform="rotate(0.15 368.3 330.71)">+</text>
<rect x="372.4" y="332.12" width="16.1" height="3.4" fill="#eda32e" stroke="#7a6a50" stroke-width="0.3" />
<rect x="387.5" y="332.32" width="1" height="3" fill="#111" />
<rect x="389.3" y="333.22" width="1.2" height="1.2" fill="#333" />
<text x="364.2" y="335.22" font-size="4.0" text-anchor="middle" fill="#444" font-weight="normal"  transform="rotate(0.15 364.2 335.22)">C</text>
<rect x="370.3" y="333.22" width="1.6" height="1.2" fill="#e8201a" />
<rect x="372.4" y="336.43" width="16.1" height="3.4" fill="#eda32e" stroke="#7a6a50" stroke-width="0.3" />
<rect x="387.5" y="336.63" width="1" height="3" fill="#111" />
<rect x="389.3" y="337.53" width="1.2" height="1.2" fill="#333" />
<text x="364.2" y="339.53" font-size="4.0" text-anchor="middle" fill="#444" font-weight="normal"  transform="rotate(0.15 364.2 339.53)">C</text>
<rect x="370.3" y="337.53" width="1.6" height="1.2" fill="#e8201a" />
<rect x="372.4" y="340.74" width="82.1" height="3.4" fill="#0d0b8c" stroke="#7a6a50" stroke-width="0.3" />
<rect x="453.5" y="340.94" width="1" height="3" fill="#111" />
<rect x="455.3" y="341.84" width="1.2" height="1.2" fill="#333" />
<path d="M395.05 341.14 L396.35 343.48 L393.75 343.48 Z" fill="#e8201a"/>
<path d="M416.29 341.14 L417.59 343.48 L414.99 343.48 Z" fill="#e8201a"/>
<path d="M440.15 341.14 L441.45 343.48 L438.85 343.48 Z" fill="#e8201a"/>
<text x="364.2" y="343.84" font-size="4.0" text-anchor="middle" fill="#444" font-weight="normal"  transform="rotate(0.15 364.2 343.84)">C</text>
<rect x="370.3" y="341.84" width="1.6" height="1.2" fill="#e8201a" />
<rect x="372.4" y="345.05" width="43" height="3.4" fill="#0d0b8c" stroke="#7a6a50" stroke-width="0.3" />
<rect x="414.4" y="345.25" width="1" height="3" fill="#111" />
<rect x="416.2" y="346.15" width="1.2" height="1.2" fill="#333" />
<path d="M394.64 345.45 L395.94 347.79 L393.34 347.79 Z" fill="#e8201a"/>
<text x="364.2" y="348.15" font-size="4.0" text-anchor="middle" fill="#444" font-weight="normal"  transform="rotate(0.15 364.2 348.15)">C</text>
<circle cx="439.6" cy="200.3" r="1.2" fill="#e8201a"/>
<circle cx="430" cy="204.6" r="1.2" fill="#e8201a"/>
<circle cx="420.9" cy="209" r="1.2" fill="#e8201a"/>
<circle cx="455.6" cy="269.3" r="1.2" fill="#e8201a"/>
<circle cx="482.1" cy="277.9" r="1.2" fill="#e8201a"/>
<circle cx="502" cy="277.9" r="1.2" fill="#e8201a"/>
<circle cx="569" cy="277.9" r="1.2" fill="#e8201a"/>
<circle cx="436.1" cy="286.5" r="1.2" fill="#e8201a"/>
<circle cx="423.3" cy="303.6" r="1.2" fill="#e8201a"/>
<circle cx="399.2" cy="325.4" r="1.2" fill="#e8201a"/>
<circle cx="467" cy="342.6" r="1.2" fill="#e8201a"/>
<circle cx="420.1" cy="347" r="1.2" fill="#e8201a"/>
<rect x="360.4" y="192.5" width="318.8" height="157.6" fill="none" stroke="#8c8c8c" stroke-width="0.7"/>
<line x1="372.2" y1="350.1" x2="372.2" y2="351.7" stroke="#666" stroke-width="0.5" />
<text x="372.2" y="355.9" font-size="4.6" text-anchor="middle" fill="#333" font-weight="normal" stroke="#333" stroke-width="0.09"  transform="rotate(0.15 372.2 355.9)">0</text>
<line x1="393.29" y1="350.1" x2="393.29" y2="351.7" stroke="#666" stroke-width="0.5" />
<text x="393.29" y="355.9" font-size="4.6" text-anchor="middle" fill="#333" font-weight="normal" stroke="#333" stroke-width="0.09"  transform="rotate(0.15 393.29 355.9)">8</text>
<line x1="414.38" y1="350.1" x2="414.38" y2="351.7" stroke="#666" stroke-width="0.5" />
<text x="414.38" y="355.9" font-size="4.6" text-anchor="middle" fill="#333" font-weight="normal" stroke="#333" stroke-width="0.09"  transform="rotate(0.15 414.38 355.9)">16</text>
<line x1="435.46" y1="350.1" x2="435.46" y2="351.7" stroke="#666" stroke-width="0.5" />
<text x="435.46" y="355.9" font-size="4.6" text-anchor="middle" fill="#333" font-weight="normal" stroke="#333" stroke-width="0.09"  transform="rotate(0.15 435.46 355.9)">24</text>
<line x1="456.55" y1="350.1" x2="456.55" y2="351.7" stroke="#666" stroke-width="0.5" />
<text x="456.55" y="355.9" font-size="4.6" text-anchor="middle" fill="#333" font-weight="normal" stroke="#333" stroke-width="0.09"  transform="rotate(0.15 456.55 355.9)">32</text>
<line x1="477.64" y1="350.1" x2="477.64" y2="351.7" stroke="#666" stroke-width="0.5" />
<text x="477.64" y="355.9" font-size="4.6" text-anchor="middle" fill="#333" font-weight="normal" stroke="#333" stroke-width="0.09"  transform="rotate(0.15 477.64 355.9)">40</text>
<line x1="498.73" y1="350.1" x2="498.73" y2="351.7" stroke="#666" stroke-width="0.5" />
<text x="498.73" y="355.9" font-size="4.6" text-anchor="middle" fill="#333" font-weight="normal" stroke="#333" stroke-width="0.09"  transform="rotate(0.15 498.73 355.9)">48</text>
<line x1="519.82" y1="350.1" x2="519.82" y2="351.7" stroke="#666" stroke-width="0.5" />
<text x="519.82" y="355.9" font-size="4.6" text-anchor="middle" fill="#333" font-weight="normal" stroke="#333" stroke-width="0.09"  transform="rotate(0.15 519.82 355.9)">56</text>
<line x1="540.9" y1="350.1" x2="540.9" y2="351.7" stroke="#666" stroke-width="0.5" />
<text x="540.9" y="355.9" font-size="4.6" text-anchor="middle" fill="#333" font-weight="normal" stroke="#333" stroke-width="0.09"  transform="rotate(0.15 540.9 355.9)">64</text>
<line x1="561.99" y1="350.1" x2="561.99" y2="351.7" stroke="#666" stroke-width="0.5" />
<text x="561.99" y="355.9" font-size="4.6" text-anchor="middle" fill="#333" font-weight="normal" stroke="#333" stroke-width="0.09"  transform="rotate(0.15 561.99 355.9)">72</text>
<line x1="583.08" y1="350.1" x2="583.08" y2="351.7" stroke="#666" stroke-width="0.5" />
<text x="583.08" y="355.9" font-size="4.6" text-anchor="middle" fill="#333" font-weight="normal" stroke="#333" stroke-width="0.09"  transform="rotate(0.15 583.08 355.9)">80</text>
<line x1="604.17" y1="350.1" x2="604.17" y2="351.7" stroke="#666" stroke-width="0.5" />
<text x="604.17" y="355.9" font-size="4.6" text-anchor="middle" fill="#333" font-weight="normal" stroke="#333" stroke-width="0.09"  transform="rotate(0.15 604.17 355.9)">88</text>
<line x1="625.26" y1="350.1" x2="625.26" y2="351.7" stroke="#666" stroke-width="0.5" />
<text x="625.26" y="355.9" font-size="4.6" text-anchor="middle" fill="#333" font-weight="normal" stroke="#333" stroke-width="0.09"  transform="rotate(0.15 625.26 355.9)">96</text>
<line x1="646.34" y1="350.1" x2="646.34" y2="351.7" stroke="#666" stroke-width="0.5" />
<text x="646.34" y="355.9" font-size="4.6" text-anchor="middle" fill="#333" font-weight="normal" stroke="#333" stroke-width="0.09"  transform="rotate(0.15 646.34 355.9)">104</text>
<line x1="667.43" y1="350.1" x2="667.43" y2="351.7" stroke="#666" stroke-width="0.5" />
<text x="667.43" y="355.9" font-size="4.6" text-anchor="middle" fill="#333" font-weight="normal" stroke="#333" stroke-width="0.09"  transform="rotate(0.15 667.43 355.9)">112</text>
<text x="519.5" y="363.5" font-size="4.95" text-anchor="middle" fill="#383838" font-weight="normal" stroke="#383838" stroke-width="0.09"  transform="rotate(0.15 519.5 363.5)">Duration of Treatment(weeks)</text>
<text x="356.9" y="271" font-size="5.0" text-anchor="middle" fill="#333" font-weight="normal" stroke="#333" stroke-width="0.09" transform="rotate(-89.5 356.9 271)" dominant-baseline="middle">Subjects</text>
<rect x="589.8" y="271.2" width="2" height="2" fill="#328a1f" />
<text x="596" y="273.6" font-size="3.9" text-anchor="start" fill="#383838" font-weight="normal" stroke="#383838" stroke-width="0.09"  transform="rotate(0.15 596 273.6)">KN026 20 mg/kg Q2W + KN046 3 mg/kg Q2W</text>
<rect x="589.8" y="275.16" width="2" height="2" fill="#1200ff" />
<text x="596" y="277.56" font-size="3.9" text-anchor="start" fill="#383838" font-weight="normal" stroke="#383838" stroke-width="0.09"  transform="rotate(0.15 596 277.56)">KN026 20 mg/kg Q2W + KN046 5 mg/kg Q3W</text>
<rect x="589.8" y="279.12" width="2" height="2" fill="#eda32e" />
<text x="596" y="281.52" font-size="3.9" text-anchor="start" fill="#383838" font-weight="normal" stroke="#383838" stroke-width="0.09"  transform="rotate(0.15 596 281.52)">KN026 30 mg/kg Q3W + KN046 5 mg/kg Q3W</text>
<rect x="589.8" y="283.08" width="2" height="2" fill="#0d0b8c" />
<text x="596" y="285.48" font-size="3.9" text-anchor="start" fill="#383838" font-weight="normal" stroke="#383838" stroke-width="0.09"  transform="rotate(0.15 596 285.48)">KN026 20 mg/kg Q2W + KN046 5 mg/kg Q2W</text>
<path d="M590.8 286.64 L592.2 289.14 L589.4 289.14 Z" fill="#e8201a"/>
<text x="596" y="289.44" font-size="3.9" text-anchor="start" fill="#383838" font-weight="normal" stroke="#383838" stroke-width="0.09"  transform="rotate(0.15 596 289.44)">Partial Response(PR)</text>
<circle cx="590.8" cy="292" r="1.2" fill="#e8201a"/>
<text x="596" y="293.4" font-size="3.9" text-anchor="start" fill="#383838" font-weight="normal" stroke="#383838" stroke-width="0.09"  transform="rotate(0.15 596 293.4)">Stable Disease(SD)</text>
<circle cx="590.8" cy="295.96" r="1.15" fill="#f2a8a8" stroke="#e8201a" stroke-width="0.55"/>
<text x="596" y="297.36" font-size="3.9" text-anchor="start" fill="#383838" font-weight="normal" stroke="#383838" stroke-width="0.09"  transform="rotate(0.15 596 297.36)">Progressive Disease(PD)</text>
<rect x="589.9" y="299.62" width="1.8" height="0.6" fill="#222" />
<text x="596" y="301.32" font-size="3.9" text-anchor="start" fill="#383838" font-weight="normal" stroke="#383838" stroke-width="0.09"  transform="rotate(0.15 596 301.32)">Treatment Discontinuation</text>
<path d="M589.8 303.88 L591.8 303.28 L591.8 304.48 Z" fill="#222"/>
<text x="596" y="305.28" font-size="3.9" text-anchor="start" fill="#383838" font-weight="normal" stroke="#383838" stroke-width="0.09"  transform="rotate(0.15 596 305.28)">Treatment Ongoing</text>
<rect x="589.8" y="306.84" width="2" height="2" fill="#e8201a" />
<text x="596" y="309.24" font-size="3.9" text-anchor="start" fill="#383838" font-weight="normal" stroke="#383838" stroke-width="0.09"  transform="rotate(0.15 596 309.24)">Response(CR/PR)</text>
<text x="590.8" y="313" font-size="3.5" text-anchor="middle" fill="#555" font-weight="normal" stroke="#555" stroke-width="0.09"  transform="rotate(0.15 590.8 313)">+</text>
<text x="596" y="313.2" font-size="3.9" text-anchor="start" fill="#383838" font-weight="normal" stroke="#383838" stroke-width="0.09"  transform="rotate(0.15 596 313.2)">New Lesions</text>
<text x="590.8" y="317.16" font-size="4.0" text-anchor="middle" fill="#555" font-weight="normal" stroke="#555" stroke-width="0.09"  transform="rotate(0.15 590.8 317.16)">C</text>
<text x="596" y="317.16" font-size="3.9" text-anchor="start" fill="#383838" font-weight="normal" stroke="#383838" stroke-width="0.09"  transform="rotate(0.15 596 317.16)">CRC</text>
<text x="590.8" y="321.12" font-size="4.0" text-anchor="middle" fill="#555" font-weight="normal" stroke="#555" stroke-width="0.09"  transform="rotate(0.15 590.8 321.12)">K</text>
<text x="596" y="321.12" font-size="3.9" text-anchor="start" fill="#383838" font-weight="normal" stroke="#383838" stroke-width="0.09"  transform="rotate(0.15 596 321.12)">Kidney</text>
<text x="590.8" y="325.08" font-size="4.0" text-anchor="middle" fill="#555" font-weight="normal" stroke="#555" stroke-width="0.09"  transform="rotate(0.15 590.8 325.08)">P</text>
<text x="596" y="325.08" font-size="3.9" text-anchor="start" fill="#383838" font-weight="normal" stroke="#383838" stroke-width="0.09"  transform="rotate(0.15 596 325.08)">Pancreas</text>
<text x="590.8" y="329.04" font-size="4.0" text-anchor="middle" fill="#555" font-weight="normal" stroke="#555" stroke-width="0.09"  transform="rotate(0.15 590.8 329.04)">L</text>
<text x="596" y="329.04" font-size="3.9" text-anchor="start" fill="#383838" font-weight="normal" stroke="#383838" stroke-width="0.09"  transform="rotate(0.15 596 329.04)">Lung</text>
<text x="590.8" y="333" font-size="4.0" text-anchor="middle" fill="#555" font-weight="normal" stroke="#555" stroke-width="0.09"  transform="rotate(0.15 590.8 333)">G</text>
<text x="596" y="333" font-size="3.9" text-anchor="start" fill="#383838" font-weight="normal" stroke="#383838" stroke-width="0.09"  transform="rotate(0.15 596 333)">Gallbladder</text>
<text x="590.8" y="336.96" font-size="4.0" text-anchor="middle" fill="#555" font-weight="normal" stroke="#555" stroke-width="0.09"  transform="rotate(0.15 590.8 336.96)">R</text>
<text x="596" y="336.96" font-size="3.9" text-anchor="start" fill="#383838" font-weight="normal" stroke="#383838" stroke-width="0.09"  transform="rotate(0.15 596 336.96)">Retroperitoneal</text>
<text x="590.8" y="340.92" font-size="4.0" text-anchor="middle" fill="#555" font-weight="normal" stroke="#555" stroke-width="0.09"  transform="rotate(0.15 590.8 340.92)">D</text>
<text x="596" y="340.92" font-size="3.9" text-anchor="start" fill="#383838" font-weight="normal" stroke="#383838" stroke-width="0.09"  transform="rotate(0.15 596 340.92)">Duodenal</text>
</svg>
</body></html>
